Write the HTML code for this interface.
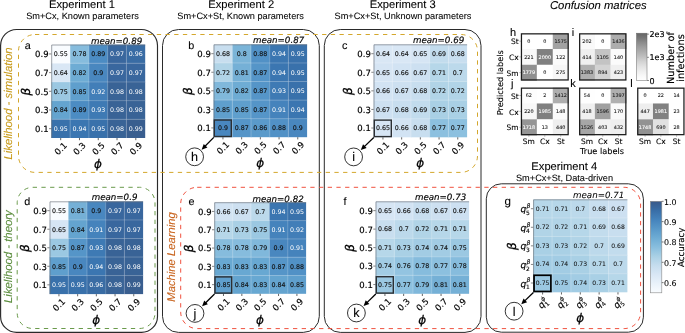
<!DOCTYPE html>
<html lang="en"><head><meta charset="utf-8"><title>Figure</title>
<style>
html,body{margin:0;padding:0;background:#fff}
svg{display:block;will-change:transform}
text{white-space:pre;text-rendering:geometricPrecision}
.d{font-family:"DejaVu Sans","Liberation Sans",sans-serif}
.l{font-family:"Liberation Sans","DejaVu Sans",sans-serif}
</style></head>
<body>
<svg width="685" height="333" viewBox="0 0 685 333">
<rect width="685" height="333" fill="#fff"/>
<rect x="0.6" y="29.5" width="156.9" height="302.9" rx="16" fill="none" stroke="#2a2a2a" stroke-width="1.15"/>
<rect x="162.5" y="29.5" width="156.8" height="302.9" rx="16" fill="none" stroke="#2a2a2a" stroke-width="1"/>
<rect x="324.3" y="29.5" width="156.7" height="302.9" rx="16" fill="none" stroke="#2a2a2a" stroke-width="1"/>
<rect x="486.3" y="183.8" width="157.1" height="148.4" rx="15" fill="none" stroke="#2a2a2a" stroke-width="1"/>
<rect x="18.5" y="34.5" width="459" height="137.9" rx="16.5" fill="none" stroke="#d4a72c" stroke-width="1" stroke-dasharray="4.3 4.4"/>
<rect x="17.2" y="187.3" width="137.8" height="141.2" rx="15.5" fill="none" stroke="#6a9a4b" stroke-width="1" stroke-dasharray="4.3 4.4"/>
<rect x="180.7" y="187.3" width="459.9" height="141.3" rx="16.5" fill="none" stroke="#f0523f" stroke-width="1" stroke-dasharray="4.3 4.4"/>
<text class="l" x="82" y="8.3" font-size="11.2" stroke="#000" stroke-width="0.09" text-anchor="middle">Experiment 1</text>
<text class="l" x="82.5" y="19.3" font-size="9.2" stroke="#000" stroke-width="0.07" text-anchor="middle">Sm+Cx, Known parameters</text>
<text class="l" x="241.2" y="8.3" font-size="11.2" stroke="#000" stroke-width="0.09" text-anchor="middle">Experiment 2</text>
<text class="l" x="240.6" y="19.3" font-size="9.2" stroke="#000" stroke-width="0.07" text-anchor="middle">Sm+Cx+St, Known parameters</text>
<text class="l" x="402.7" y="8.3" font-size="11.2" stroke="#000" stroke-width="0.09" text-anchor="middle">Experiment 3</text>
<text class="l" x="403" y="19.3" font-size="9.2" stroke="#000" stroke-width="0.07" text-anchor="middle">Sm+Cx+St, Unknown parameters</text>
<text class="l" x="564.3" y="169.7" font-size="11.2" stroke="#000" stroke-width="0.09" text-anchor="middle">Experiment 4</text>
<text class="l" x="564.5" y="181" font-size="9.2" stroke="#000" stroke-width="0.07" text-anchor="middle">Sm+Cx+St, Data-driven</text>
<text class="l" x="598.3" y="8.8" font-size="11.3" stroke="#000" stroke-width="0.09" text-anchor="middle" font-style="italic">Confusion matrices</text>
<text class="l" x="11.8" y="103.5" font-size="11.35" stroke="#c79a1a" stroke-width="0.09" text-anchor="middle" fill="#c79a1a" font-style="italic" transform="rotate(-90 11.8 103.5)">Likelihood - simulation</text>
<text class="l" x="11.6" y="256.6" font-size="11.35" stroke="#5a8c3c" stroke-width="0.09" text-anchor="middle" fill="#5a8c3c" font-style="italic" transform="rotate(-90 11.6 256.6)">Likelihood - theory</text>
<text class="l" x="174.9" y="257" font-size="11.25" stroke="#c8641e" stroke-width="0.09" text-anchor="middle" fill="#c8641e" font-style="italic" transform="rotate(-90 174.9 257)">Machine Learning</text>
<rect x="51.3" y="44.6" width="19.08" height="18.98" fill="#f9fcff"/>
<rect x="70.08" y="44.6" width="19.08" height="18.98" fill="#86bcdd"/>
<rect x="88.86" y="44.6" width="19.08" height="18.98" fill="#4c8cc3"/>
<rect x="107.64" y="44.6" width="19.08" height="18.98" fill="#39679e"/>
<rect x="126.42" y="44.6" width="18.78" height="18.98" fill="#396ca4"/>
<rect x="51.3" y="63.28" width="19.08" height="18.98" fill="#d9e7f5"/>
<rect x="70.08" y="63.28" width="19.08" height="18.98" fill="#6eacd4"/>
<rect x="88.86" y="63.28" width="19.08" height="18.98" fill="#4987bf"/>
<rect x="107.64" y="63.28" width="19.08" height="18.98" fill="#39679e"/>
<rect x="126.42" y="63.28" width="18.78" height="18.98" fill="#39679e"/>
<rect x="51.3" y="81.96" width="19.08" height="18.98" fill="#9bc8e2"/>
<rect x="70.08" y="81.96" width="19.08" height="18.98" fill="#5f9fcd"/>
<rect x="88.86" y="81.96" width="19.08" height="18.98" fill="#427eb8"/>
<rect x="107.64" y="81.96" width="19.08" height="18.98" fill="#396396"/>
<rect x="126.42" y="81.96" width="18.78" height="18.98" fill="#396396"/>
<rect x="51.3" y="100.64" width="19.08" height="18.98" fill="#64a4cf"/>
<rect x="70.08" y="100.64" width="19.08" height="18.98" fill="#4c8cc3"/>
<rect x="88.86" y="100.64" width="19.08" height="18.98" fill="#3e7ab4"/>
<rect x="107.64" y="100.64" width="19.08" height="18.98" fill="#396396"/>
<rect x="126.42" y="100.64" width="18.78" height="18.98" fill="#396396"/>
<rect x="51.3" y="119.32" width="19.08" height="18.68" fill="#3971ab"/>
<rect x="70.08" y="119.32" width="19.08" height="18.68" fill="#3b76b1"/>
<rect x="88.86" y="119.32" width="19.08" height="18.68" fill="#3971ab"/>
<rect x="107.64" y="119.32" width="19.08" height="18.68" fill="#396396"/>
<rect x="126.42" y="119.32" width="18.78" height="18.68" fill="#395e8f"/>
<line x1="70.08" y1="44.6" x2="70.08" y2="138" stroke="#fff" stroke-opacity=".45" stroke-width=".5"/>
<line x1="51.3" y1="63.28" x2="145.2" y2="63.28" stroke="#fff" stroke-opacity=".45" stroke-width=".5"/>
<line x1="88.86" y1="44.6" x2="88.86" y2="138" stroke="#fff" stroke-opacity=".45" stroke-width=".5"/>
<line x1="51.3" y1="81.96" x2="145.2" y2="81.96" stroke="#fff" stroke-opacity=".45" stroke-width=".5"/>
<line x1="107.64" y1="44.6" x2="107.64" y2="138" stroke="#fff" stroke-opacity=".45" stroke-width=".5"/>
<line x1="51.3" y1="100.64" x2="145.2" y2="100.64" stroke="#fff" stroke-opacity=".45" stroke-width=".5"/>
<line x1="126.42" y1="44.6" x2="126.42" y2="138" stroke="#fff" stroke-opacity=".45" stroke-width=".5"/>
<line x1="51.3" y1="119.32" x2="145.2" y2="119.32" stroke="#fff" stroke-opacity=".45" stroke-width=".5"/>
<path d="M51.7 138V45H145.2" fill="none" stroke="#6a7078" stroke-opacity=".8" stroke-width=".8"/>
<text class="d" x="60.69" y="56.24" font-size="6.3" stroke="#111" stroke-width="0.14" text-anchor="middle" fill="#111">0.55</text>
<text class="d" x="79.47" y="56.24" font-size="6.3" stroke="#111" stroke-width="0.14" text-anchor="middle" fill="#111">0.78</text>
<text class="d" x="98.25" y="56.24" font-size="6.3" stroke="#111" stroke-width="0.14" text-anchor="middle" fill="#111">0.89</text>
<text class="d" x="117.03" y="56.24" font-size="6.3" text-anchor="middle" fill="#fff">0.97</text>
<text class="d" x="135.81" y="56.24" font-size="6.3" text-anchor="middle" fill="#fff">0.96</text>
<text class="d" x="60.69" y="74.92" font-size="6.3" stroke="#111" stroke-width="0.14" text-anchor="middle" fill="#111">0.64</text>
<text class="d" x="79.47" y="74.92" font-size="6.3" stroke="#111" stroke-width="0.14" text-anchor="middle" fill="#111">0.82</text>
<text class="d" x="98.25" y="74.92" font-size="6.3" stroke="#111" stroke-width="0.14" text-anchor="middle" fill="#111">0.9</text>
<text class="d" x="117.03" y="74.92" font-size="6.3" text-anchor="middle" fill="#fff">0.97</text>
<text class="d" x="135.81" y="74.92" font-size="6.3" text-anchor="middle" fill="#fff">0.97</text>
<text class="d" x="60.69" y="93.6" font-size="6.3" stroke="#111" stroke-width="0.14" text-anchor="middle" fill="#111">0.75</text>
<text class="d" x="79.47" y="93.6" font-size="6.3" stroke="#111" stroke-width="0.14" text-anchor="middle" fill="#111">0.85</text>
<text class="d" x="98.25" y="93.6" font-size="6.3" text-anchor="middle" fill="#fff">0.92</text>
<text class="d" x="117.03" y="93.6" font-size="6.3" text-anchor="middle" fill="#fff">0.98</text>
<text class="d" x="135.81" y="93.6" font-size="6.3" text-anchor="middle" fill="#fff">0.98</text>
<text class="d" x="60.69" y="112.28" font-size="6.3" stroke="#111" stroke-width="0.14" text-anchor="middle" fill="#111">0.84</text>
<text class="d" x="79.47" y="112.28" font-size="6.3" stroke="#111" stroke-width="0.14" text-anchor="middle" fill="#111">0.89</text>
<text class="d" x="98.25" y="112.28" font-size="6.3" text-anchor="middle" fill="#fff">0.93</text>
<text class="d" x="117.03" y="112.28" font-size="6.3" text-anchor="middle" fill="#fff">0.98</text>
<text class="d" x="135.81" y="112.28" font-size="6.3" text-anchor="middle" fill="#fff">0.98</text>
<text class="d" x="60.69" y="130.96" font-size="6.3" text-anchor="middle" fill="#fff">0.95</text>
<text class="d" x="79.47" y="130.96" font-size="6.3" text-anchor="middle" fill="#fff">0.94</text>
<text class="d" x="98.25" y="130.96" font-size="6.3" text-anchor="middle" fill="#fff">0.95</text>
<text class="d" x="117.03" y="130.96" font-size="6.3" text-anchor="middle" fill="#fff">0.98</text>
<text class="d" x="135.81" y="130.96" font-size="6.3" text-anchor="middle" fill="#fff">0.99</text>
<line x1="49" y1="53.94" x2="51.3" y2="53.94" stroke="#333" stroke-width=".6"/>
<text class="d" x="48.6" y="57.34" font-size="8.5" stroke="#000" stroke-width="0.17" text-anchor="end">0.9</text>
<line x1="49" y1="72.62" x2="51.3" y2="72.62" stroke="#333" stroke-width=".6"/>
<text class="d" x="48.6" y="76.02" font-size="8.5" stroke="#000" stroke-width="0.17" text-anchor="end">0.7</text>
<line x1="49" y1="91.3" x2="51.3" y2="91.3" stroke="#333" stroke-width=".6"/>
<text class="d" x="48.6" y="94.7" font-size="8.5" stroke="#000" stroke-width="0.17" text-anchor="end">0.5</text>
<line x1="49" y1="109.98" x2="51.3" y2="109.98" stroke="#333" stroke-width=".6"/>
<text class="d" x="48.6" y="113.38" font-size="8.5" stroke="#000" stroke-width="0.17" text-anchor="end">0.3</text>
<line x1="49" y1="128.66" x2="51.3" y2="128.66" stroke="#333" stroke-width=".6"/>
<text class="d" x="48.6" y="132.06" font-size="8.5" stroke="#000" stroke-width="0.17" text-anchor="end">0.1</text>
<line x1="60.69" y1="138" x2="60.69" y2="140.2" stroke="#222" stroke-width=".7"/>
<text class="d" x="60.69" y="151.7" font-size="8.5" stroke="#000" stroke-width="0.17" text-anchor="middle" transform="rotate(-45 60.69 148.6)">0.1</text>
<line x1="79.47" y1="138" x2="79.47" y2="140.2" stroke="#222" stroke-width=".7"/>
<text class="d" x="79.47" y="151.7" font-size="8.5" stroke="#000" stroke-width="0.17" text-anchor="middle" transform="rotate(-45 79.47 148.6)">0.3</text>
<line x1="98.25" y1="138" x2="98.25" y2="140.2" stroke="#222" stroke-width=".7"/>
<text class="d" x="98.25" y="151.7" font-size="8.5" stroke="#000" stroke-width="0.17" text-anchor="middle" transform="rotate(-45 98.25 148.6)">0.5</text>
<line x1="117.03" y1="138" x2="117.03" y2="140.2" stroke="#222" stroke-width=".7"/>
<text class="d" x="117.03" y="151.7" font-size="8.5" stroke="#000" stroke-width="0.17" text-anchor="middle" transform="rotate(-45 117.03 148.6)">0.7</text>
<line x1="135.81" y1="138" x2="135.81" y2="140.2" stroke="#222" stroke-width=".7"/>
<text class="d" x="135.81" y="151.7" font-size="8.5" stroke="#000" stroke-width="0.17" text-anchor="middle" transform="rotate(-45 135.81 148.6)">0.9</text>
<text class="d" x="26.4" y="95.8" font-size="12" stroke="#000" stroke-width="0.24" text-anchor="middle" font-style="italic" transform="rotate(-90 26.4 91.7)">β</text>
<text class="d" x="98.05" y="168" font-size="12" stroke="#000" stroke-width="0.24" text-anchor="middle" font-style="italic">ϕ</text>
<text class="d" x="116.56" y="43.9" font-size="8.7" stroke="#000" stroke-width="0.17" text-anchor="middle" font-style="italic">mean=0.89</text>
<text class="l" x="24.8" y="49" font-size="10.8" stroke="#000" stroke-width="0.09">a</text>
<rect x="213.6" y="44.4" width="19" height="18.86" fill="#c8deef"/>
<rect x="232.3" y="44.4" width="19" height="18.86" fill="#7ab4d8"/>
<rect x="251" y="44.4" width="19" height="18.86" fill="#5191c6"/>
<rect x="269.7" y="44.4" width="19" height="18.86" fill="#3b76b1"/>
<rect x="288.4" y="44.4" width="18.7" height="18.86" fill="#3971ab"/>
<rect x="213.6" y="62.96" width="19" height="18.86" fill="#b1d4e7"/>
<rect x="232.3" y="62.96" width="19" height="18.86" fill="#75b0d6"/>
<rect x="251" y="62.96" width="19" height="18.86" fill="#5595c8"/>
<rect x="269.7" y="62.96" width="19" height="18.86" fill="#3b76b1"/>
<rect x="288.4" y="62.96" width="18.7" height="18.86" fill="#3971ab"/>
<rect x="213.6" y="81.52" width="19" height="18.86" fill="#80b8db"/>
<rect x="232.3" y="81.52" width="19" height="18.86" fill="#6eacd4"/>
<rect x="251" y="81.52" width="19" height="18.86" fill="#5595c8"/>
<rect x="269.7" y="81.52" width="19" height="18.86" fill="#3e7ab4"/>
<rect x="288.4" y="81.52" width="18.7" height="18.86" fill="#3971ab"/>
<rect x="213.6" y="100.08" width="19" height="18.86" fill="#5f9fcd"/>
<rect x="232.3" y="100.08" width="19" height="18.86" fill="#5f9fcd"/>
<rect x="251" y="100.08" width="19" height="18.86" fill="#5595c8"/>
<rect x="269.7" y="100.08" width="19" height="18.86" fill="#4583bc"/>
<rect x="288.4" y="100.08" width="18.7" height="18.86" fill="#3b76b1"/>
<rect x="213.6" y="118.64" width="19" height="18.56" fill="#4987bf"/>
<rect x="232.3" y="118.64" width="19" height="18.56" fill="#5595c8"/>
<rect x="251" y="118.64" width="19" height="18.56" fill="#5a9aca"/>
<rect x="269.7" y="118.64" width="19" height="18.56" fill="#5191c6"/>
<rect x="288.4" y="118.64" width="18.7" height="18.56" fill="#4987bf"/>
<line x1="232.3" y1="44.4" x2="232.3" y2="137.2" stroke="#fff" stroke-opacity=".45" stroke-width=".5"/>
<line x1="213.6" y1="62.96" x2="307.1" y2="62.96" stroke="#fff" stroke-opacity=".45" stroke-width=".5"/>
<line x1="251" y1="44.4" x2="251" y2="137.2" stroke="#fff" stroke-opacity=".45" stroke-width=".5"/>
<line x1="213.6" y1="81.52" x2="307.1" y2="81.52" stroke="#fff" stroke-opacity=".45" stroke-width=".5"/>
<line x1="269.7" y1="44.4" x2="269.7" y2="137.2" stroke="#fff" stroke-opacity=".45" stroke-width=".5"/>
<line x1="213.6" y1="100.08" x2="307.1" y2="100.08" stroke="#fff" stroke-opacity=".45" stroke-width=".5"/>
<line x1="288.4" y1="44.4" x2="288.4" y2="137.2" stroke="#fff" stroke-opacity=".45" stroke-width=".5"/>
<line x1="213.6" y1="118.64" x2="307.1" y2="118.64" stroke="#fff" stroke-opacity=".45" stroke-width=".5"/>
<path d="M214 137.2V44.8H307.1" fill="none" stroke="#6a7078" stroke-opacity=".8" stroke-width=".8"/>
<text class="d" x="222.95" y="55.98" font-size="6.3" stroke="#111" stroke-width="0.14" text-anchor="middle" fill="#111">0.68</text>
<text class="d" x="241.65" y="55.98" font-size="6.3" stroke="#111" stroke-width="0.14" text-anchor="middle" fill="#111">0.8</text>
<text class="d" x="260.35" y="55.98" font-size="6.3" stroke="#111" stroke-width="0.14" text-anchor="middle" fill="#111">0.88</text>
<text class="d" x="279.05" y="55.98" font-size="6.3" text-anchor="middle" fill="#fff">0.94</text>
<text class="d" x="297.75" y="55.98" font-size="6.3" text-anchor="middle" fill="#fff">0.95</text>
<text class="d" x="222.95" y="74.54" font-size="6.3" stroke="#111" stroke-width="0.14" text-anchor="middle" fill="#111">0.72</text>
<text class="d" x="241.65" y="74.54" font-size="6.3" stroke="#111" stroke-width="0.14" text-anchor="middle" fill="#111">0.81</text>
<text class="d" x="260.35" y="74.54" font-size="6.3" stroke="#111" stroke-width="0.14" text-anchor="middle" fill="#111">0.87</text>
<text class="d" x="279.05" y="74.54" font-size="6.3" text-anchor="middle" fill="#fff">0.94</text>
<text class="d" x="297.75" y="74.54" font-size="6.3" text-anchor="middle" fill="#fff">0.95</text>
<text class="d" x="222.95" y="93.1" font-size="6.3" stroke="#111" stroke-width="0.14" text-anchor="middle" fill="#111">0.79</text>
<text class="d" x="241.65" y="93.1" font-size="6.3" stroke="#111" stroke-width="0.14" text-anchor="middle" fill="#111">0.82</text>
<text class="d" x="260.35" y="93.1" font-size="6.3" stroke="#111" stroke-width="0.14" text-anchor="middle" fill="#111">0.87</text>
<text class="d" x="279.05" y="93.1" font-size="6.3" text-anchor="middle" fill="#fff">0.93</text>
<text class="d" x="297.75" y="93.1" font-size="6.3" text-anchor="middle" fill="#fff">0.95</text>
<text class="d" x="222.95" y="111.66" font-size="6.3" stroke="#111" stroke-width="0.14" text-anchor="middle" fill="#111">0.85</text>
<text class="d" x="241.65" y="111.66" font-size="6.3" stroke="#111" stroke-width="0.14" text-anchor="middle" fill="#111">0.85</text>
<text class="d" x="260.35" y="111.66" font-size="6.3" stroke="#111" stroke-width="0.14" text-anchor="middle" fill="#111">0.87</text>
<text class="d" x="279.05" y="111.66" font-size="6.3" text-anchor="middle" fill="#fff">0.91</text>
<text class="d" x="297.75" y="111.66" font-size="6.3" text-anchor="middle" fill="#fff">0.94</text>
<text class="d" x="222.95" y="130.22" font-size="6.3" stroke="#111" stroke-width="0.14" text-anchor="middle" fill="#111">0.9</text>
<text class="d" x="241.65" y="130.22" font-size="6.3" stroke="#111" stroke-width="0.14" text-anchor="middle" fill="#111">0.87</text>
<text class="d" x="260.35" y="130.22" font-size="6.3" stroke="#111" stroke-width="0.14" text-anchor="middle" fill="#111">0.86</text>
<text class="d" x="279.05" y="130.22" font-size="6.3" stroke="#111" stroke-width="0.14" text-anchor="middle" fill="#111">0.88</text>
<text class="d" x="297.75" y="130.22" font-size="6.3" stroke="#111" stroke-width="0.14" text-anchor="middle" fill="#111">0.9</text>
<line x1="211.3" y1="53.68" x2="213.6" y2="53.68" stroke="#333" stroke-width=".6"/>
<text class="d" x="210.9" y="57.08" font-size="8.5" stroke="#000" stroke-width="0.17" text-anchor="end">0.9</text>
<line x1="211.3" y1="72.24" x2="213.6" y2="72.24" stroke="#333" stroke-width=".6"/>
<text class="d" x="210.9" y="75.64" font-size="8.5" stroke="#000" stroke-width="0.17" text-anchor="end">0.7</text>
<line x1="211.3" y1="90.8" x2="213.6" y2="90.8" stroke="#333" stroke-width=".6"/>
<text class="d" x="210.9" y="94.2" font-size="8.5" stroke="#000" stroke-width="0.17" text-anchor="end">0.5</text>
<line x1="211.3" y1="109.36" x2="213.6" y2="109.36" stroke="#333" stroke-width=".6"/>
<text class="d" x="210.9" y="112.76" font-size="8.5" stroke="#000" stroke-width="0.17" text-anchor="end">0.3</text>
<line x1="211.3" y1="127.92" x2="213.6" y2="127.92" stroke="#333" stroke-width=".6"/>
<text class="d" x="210.9" y="131.32" font-size="8.5" stroke="#000" stroke-width="0.17" text-anchor="end">0.1</text>
<line x1="222.95" y1="137.2" x2="222.95" y2="139.4" stroke="#222" stroke-width=".7"/>
<text class="d" x="222.95" y="150.9" font-size="8.5" stroke="#000" stroke-width="0.17" text-anchor="middle" transform="rotate(-45 222.95 147.8)">0.1</text>
<line x1="241.65" y1="137.2" x2="241.65" y2="139.4" stroke="#222" stroke-width=".7"/>
<text class="d" x="241.65" y="150.9" font-size="8.5" stroke="#000" stroke-width="0.17" text-anchor="middle" transform="rotate(-45 241.65 147.8)">0.3</text>
<line x1="260.35" y1="137.2" x2="260.35" y2="139.4" stroke="#222" stroke-width=".7"/>
<text class="d" x="260.35" y="150.9" font-size="8.5" stroke="#000" stroke-width="0.17" text-anchor="middle" transform="rotate(-45 260.35 147.8)">0.5</text>
<line x1="279.05" y1="137.2" x2="279.05" y2="139.4" stroke="#222" stroke-width=".7"/>
<text class="d" x="279.05" y="150.9" font-size="8.5" stroke="#000" stroke-width="0.17" text-anchor="middle" transform="rotate(-45 279.05 147.8)">0.7</text>
<line x1="297.75" y1="137.2" x2="297.75" y2="139.4" stroke="#222" stroke-width=".7"/>
<text class="d" x="297.75" y="150.9" font-size="8.5" stroke="#000" stroke-width="0.17" text-anchor="middle" transform="rotate(-45 297.75 147.8)">0.9</text>
<text class="d" x="188" y="95.3" font-size="12" stroke="#000" stroke-width="0.24" text-anchor="middle" font-style="italic" transform="rotate(-90 188 91.2)">β</text>
<text class="d" x="260.15" y="167.2" font-size="12" stroke="#000" stroke-width="0.24" text-anchor="middle" font-style="italic">ϕ</text>
<text class="d" x="278.58" y="43.3" font-size="8.7" stroke="#000" stroke-width="0.17" text-anchor="middle" font-style="italic">mean=0.87</text>
<text class="l" x="188.2" y="49.3" font-size="10.8" stroke="#000" stroke-width="0.09">b</text>
<rect x="214.3" y="120.04" width="17" height="16.46" fill="none" stroke="#2b2f33" stroke-width="1.4"/>
<line x1="213.8" y1="137.4" x2="203.74" y2="147.56" stroke="#000" stroke-width="1.3"/>
<polygon points="201.63,149.69 203.73,143.88 207.42,147.54" fill="#000"/>
<circle cx="194.6" cy="156.8" r="8.9" fill="#fff" stroke="#111" stroke-width=".85"/>
<text class="l" x="194.6" y="161.1" font-size="12.6" stroke="#000" stroke-width="0.1" text-anchor="middle">h</text>
<rect x="373.6" y="44.4" width="19" height="18.88" fill="#d9e7f5"/>
<rect x="392.3" y="44.4" width="19" height="18.88" fill="#d9e7f5"/>
<rect x="411" y="44.4" width="19" height="18.88" fill="#d6e5f4"/>
<rect x="429.7" y="44.4" width="19" height="18.88" fill="#c2dced"/>
<rect x="448.4" y="44.4" width="18.7" height="18.88" fill="#c8deef"/>
<rect x="373.6" y="62.98" width="19" height="18.88" fill="#d6e5f4"/>
<rect x="392.3" y="62.98" width="19" height="18.88" fill="#d2e3f3"/>
<rect x="411" y="62.98" width="19" height="18.88" fill="#cde0f1"/>
<rect x="429.7" y="62.98" width="19" height="18.88" fill="#b6d7e9"/>
<rect x="448.4" y="62.98" width="18.7" height="18.88" fill="#bcd9eb"/>
<rect x="373.6" y="81.56" width="19" height="18.88" fill="#d2e3f3"/>
<rect x="392.3" y="81.56" width="19" height="18.88" fill="#cde0f1"/>
<rect x="411" y="81.56" width="19" height="18.88" fill="#c8deef"/>
<rect x="429.7" y="81.56" width="19" height="18.88" fill="#b1d4e7"/>
<rect x="448.4" y="81.56" width="18.7" height="18.88" fill="#b1d4e7"/>
<rect x="373.6" y="100.14" width="19" height="18.88" fill="#cde0f1"/>
<rect x="392.3" y="100.14" width="19" height="18.88" fill="#c8deef"/>
<rect x="411" y="100.14" width="19" height="18.88" fill="#c2dced"/>
<rect x="429.7" y="100.14" width="19" height="18.88" fill="#a9d0e5"/>
<rect x="448.4" y="100.14" width="18.7" height="18.88" fill="#a9d0e5"/>
<rect x="373.6" y="118.72" width="19" height="18.58" fill="#d6e5f4"/>
<rect x="392.3" y="118.72" width="19" height="18.58" fill="#d2e3f3"/>
<rect x="411" y="118.72" width="19" height="18.58" fill="#c8deef"/>
<rect x="429.7" y="118.72" width="19" height="18.58" fill="#8cc0df"/>
<rect x="448.4" y="118.72" width="18.7" height="18.58" fill="#8cc0df"/>
<line x1="392.3" y1="44.4" x2="392.3" y2="137.3" stroke="#fff" stroke-opacity=".45" stroke-width=".5"/>
<line x1="373.6" y1="62.98" x2="467.1" y2="62.98" stroke="#fff" stroke-opacity=".45" stroke-width=".5"/>
<line x1="411" y1="44.4" x2="411" y2="137.3" stroke="#fff" stroke-opacity=".45" stroke-width=".5"/>
<line x1="373.6" y1="81.56" x2="467.1" y2="81.56" stroke="#fff" stroke-opacity=".45" stroke-width=".5"/>
<line x1="429.7" y1="44.4" x2="429.7" y2="137.3" stroke="#fff" stroke-opacity=".45" stroke-width=".5"/>
<line x1="373.6" y1="100.14" x2="467.1" y2="100.14" stroke="#fff" stroke-opacity=".45" stroke-width=".5"/>
<line x1="448.4" y1="44.4" x2="448.4" y2="137.3" stroke="#fff" stroke-opacity=".45" stroke-width=".5"/>
<line x1="373.6" y1="118.72" x2="467.1" y2="118.72" stroke="#fff" stroke-opacity=".45" stroke-width=".5"/>
<path d="M374 137.3V44.8H467.1" fill="none" stroke="#6a7078" stroke-opacity=".8" stroke-width=".8"/>
<text class="d" x="382.95" y="55.99" font-size="6.3" stroke="#111" stroke-width="0.14" text-anchor="middle" fill="#111">0.64</text>
<text class="d" x="401.65" y="55.99" font-size="6.3" stroke="#111" stroke-width="0.14" text-anchor="middle" fill="#111">0.64</text>
<text class="d" x="420.35" y="55.99" font-size="6.3" stroke="#111" stroke-width="0.14" text-anchor="middle" fill="#111">0.65</text>
<text class="d" x="439.05" y="55.99" font-size="6.3" stroke="#111" stroke-width="0.14" text-anchor="middle" fill="#111">0.69</text>
<text class="d" x="457.75" y="55.99" font-size="6.3" stroke="#111" stroke-width="0.14" text-anchor="middle" fill="#111">0.68</text>
<text class="d" x="382.95" y="74.57" font-size="6.3" stroke="#111" stroke-width="0.14" text-anchor="middle" fill="#111">0.65</text>
<text class="d" x="401.65" y="74.57" font-size="6.3" stroke="#111" stroke-width="0.14" text-anchor="middle" fill="#111">0.66</text>
<text class="d" x="420.35" y="74.57" font-size="6.3" stroke="#111" stroke-width="0.14" text-anchor="middle" fill="#111">0.67</text>
<text class="d" x="439.05" y="74.57" font-size="6.3" stroke="#111" stroke-width="0.14" text-anchor="middle" fill="#111">0.71</text>
<text class="d" x="457.75" y="74.57" font-size="6.3" stroke="#111" stroke-width="0.14" text-anchor="middle" fill="#111">0.7</text>
<text class="d" x="382.95" y="93.15" font-size="6.3" stroke="#111" stroke-width="0.14" text-anchor="middle" fill="#111">0.66</text>
<text class="d" x="401.65" y="93.15" font-size="6.3" stroke="#111" stroke-width="0.14" text-anchor="middle" fill="#111">0.67</text>
<text class="d" x="420.35" y="93.15" font-size="6.3" stroke="#111" stroke-width="0.14" text-anchor="middle" fill="#111">0.68</text>
<text class="d" x="439.05" y="93.15" font-size="6.3" stroke="#111" stroke-width="0.14" text-anchor="middle" fill="#111">0.72</text>
<text class="d" x="457.75" y="93.15" font-size="6.3" stroke="#111" stroke-width="0.14" text-anchor="middle" fill="#111">0.72</text>
<text class="d" x="382.95" y="111.73" font-size="6.3" stroke="#111" stroke-width="0.14" text-anchor="middle" fill="#111">0.67</text>
<text class="d" x="401.65" y="111.73" font-size="6.3" stroke="#111" stroke-width="0.14" text-anchor="middle" fill="#111">0.68</text>
<text class="d" x="420.35" y="111.73" font-size="6.3" stroke="#111" stroke-width="0.14" text-anchor="middle" fill="#111">0.69</text>
<text class="d" x="439.05" y="111.73" font-size="6.3" stroke="#111" stroke-width="0.14" text-anchor="middle" fill="#111">0.73</text>
<text class="d" x="457.75" y="111.73" font-size="6.3" stroke="#111" stroke-width="0.14" text-anchor="middle" fill="#111">0.73</text>
<text class="d" x="382.95" y="130.31" font-size="6.3" stroke="#111" stroke-width="0.14" text-anchor="middle" fill="#111">0.65</text>
<text class="d" x="401.65" y="130.31" font-size="6.3" stroke="#111" stroke-width="0.14" text-anchor="middle" fill="#111">0.66</text>
<text class="d" x="420.35" y="130.31" font-size="6.3" stroke="#111" stroke-width="0.14" text-anchor="middle" fill="#111">0.68</text>
<text class="d" x="439.05" y="130.31" font-size="6.3" stroke="#111" stroke-width="0.14" text-anchor="middle" fill="#111">0.77</text>
<text class="d" x="457.75" y="130.31" font-size="6.3" stroke="#111" stroke-width="0.14" text-anchor="middle" fill="#111">0.77</text>
<line x1="371.3" y1="53.69" x2="373.6" y2="53.69" stroke="#333" stroke-width=".6"/>
<text class="d" x="370.9" y="57.09" font-size="8.5" stroke="#000" stroke-width="0.17" text-anchor="end">0.9</text>
<line x1="371.3" y1="72.27" x2="373.6" y2="72.27" stroke="#333" stroke-width=".6"/>
<text class="d" x="370.9" y="75.67" font-size="8.5" stroke="#000" stroke-width="0.17" text-anchor="end">0.7</text>
<line x1="371.3" y1="90.85" x2="373.6" y2="90.85" stroke="#333" stroke-width=".6"/>
<text class="d" x="370.9" y="94.25" font-size="8.5" stroke="#000" stroke-width="0.17" text-anchor="end">0.5</text>
<line x1="371.3" y1="109.43" x2="373.6" y2="109.43" stroke="#333" stroke-width=".6"/>
<text class="d" x="370.9" y="112.83" font-size="8.5" stroke="#000" stroke-width="0.17" text-anchor="end">0.3</text>
<line x1="371.3" y1="128.01" x2="373.6" y2="128.01" stroke="#333" stroke-width=".6"/>
<text class="d" x="370.9" y="131.41" font-size="8.5" stroke="#000" stroke-width="0.17" text-anchor="end">0.1</text>
<line x1="382.95" y1="137.3" x2="382.95" y2="139.5" stroke="#222" stroke-width=".7"/>
<text class="d" x="382.95" y="151" font-size="8.5" stroke="#000" stroke-width="0.17" text-anchor="middle" transform="rotate(-45 382.95 147.9)">0.1</text>
<line x1="401.65" y1="137.3" x2="401.65" y2="139.5" stroke="#222" stroke-width=".7"/>
<text class="d" x="401.65" y="151" font-size="8.5" stroke="#000" stroke-width="0.17" text-anchor="middle" transform="rotate(-45 401.65 147.9)">0.3</text>
<line x1="420.35" y1="137.3" x2="420.35" y2="139.5" stroke="#222" stroke-width=".7"/>
<text class="d" x="420.35" y="151" font-size="8.5" stroke="#000" stroke-width="0.17" text-anchor="middle" transform="rotate(-45 420.35 147.9)">0.5</text>
<line x1="439.05" y1="137.3" x2="439.05" y2="139.5" stroke="#222" stroke-width=".7"/>
<text class="d" x="439.05" y="151" font-size="8.5" stroke="#000" stroke-width="0.17" text-anchor="middle" transform="rotate(-45 439.05 147.9)">0.7</text>
<line x1="457.75" y1="137.3" x2="457.75" y2="139.5" stroke="#222" stroke-width=".7"/>
<text class="d" x="457.75" y="151" font-size="8.5" stroke="#000" stroke-width="0.17" text-anchor="middle" transform="rotate(-45 457.75 147.9)">0.9</text>
<text class="d" x="348" y="95.35" font-size="12" stroke="#000" stroke-width="0.24" text-anchor="middle" font-style="italic" transform="rotate(-90 348 91.25)">β</text>
<text class="d" x="420.15" y="167.3" font-size="12" stroke="#000" stroke-width="0.24" text-anchor="middle" font-style="italic">ϕ</text>
<text class="d" x="438.58" y="43.1" font-size="8.7" stroke="#000" stroke-width="0.17" text-anchor="middle" font-style="italic">mean=0.69</text>
<text class="l" x="342" y="49.4" font-size="10.8" stroke="#000" stroke-width="0.09">c</text>
<rect x="374.3" y="120.12" width="17" height="16.48" fill="none" stroke="#2b2f33" stroke-width="1.4"/>
<line x1="373.8" y1="137.5" x2="362.98" y2="147.9" stroke="#000" stroke-width="1.3"/>
<polygon points="360.81,149.97 363.05,144.22 366.65,147.97" fill="#000"/>
<circle cx="353.6" cy="156.9" r="8.9" fill="#fff" stroke="#111" stroke-width=".85"/>
<text class="l" x="353.6" y="161.2" font-size="12.6" stroke="#000" stroke-width="0.1" text-anchor="middle">i</text>
<rect x="49.6" y="201.4" width="19" height="18.84" fill="#f9fcff"/>
<rect x="68.3" y="201.4" width="19" height="18.84" fill="#75b0d6"/>
<rect x="87" y="201.4" width="19" height="18.84" fill="#4987bf"/>
<rect x="105.7" y="201.4" width="19" height="18.84" fill="#39679e"/>
<rect x="124.4" y="201.4" width="18.7" height="18.84" fill="#39679e"/>
<rect x="49.6" y="219.94" width="19" height="18.84" fill="#d6e5f4"/>
<rect x="68.3" y="219.94" width="19" height="18.84" fill="#64a4cf"/>
<rect x="87" y="219.94" width="19" height="18.84" fill="#4583bc"/>
<rect x="105.7" y="219.94" width="19" height="18.84" fill="#39679e"/>
<rect x="124.4" y="219.94" width="18.7" height="18.84" fill="#39679e"/>
<rect x="49.6" y="238.48" width="19" height="18.84" fill="#9bc8e2"/>
<rect x="68.3" y="238.48" width="19" height="18.84" fill="#5595c8"/>
<rect x="87" y="238.48" width="19" height="18.84" fill="#3e7ab4"/>
<rect x="105.7" y="238.48" width="19" height="18.84" fill="#396396"/>
<rect x="124.4" y="238.48" width="18.7" height="18.84" fill="#396396"/>
<rect x="49.6" y="257.02" width="19" height="18.84" fill="#5f9fcd"/>
<rect x="68.3" y="257.02" width="19" height="18.84" fill="#4987bf"/>
<rect x="87" y="257.02" width="19" height="18.84" fill="#3b76b1"/>
<rect x="105.7" y="257.02" width="19" height="18.84" fill="#396396"/>
<rect x="124.4" y="257.02" width="18.7" height="18.84" fill="#396396"/>
<rect x="49.6" y="275.56" width="19" height="18.54" fill="#3971ab"/>
<rect x="68.3" y="275.56" width="19" height="18.54" fill="#3971ab"/>
<rect x="87" y="275.56" width="19" height="18.54" fill="#396ca4"/>
<rect x="105.7" y="275.56" width="19" height="18.54" fill="#396396"/>
<rect x="124.4" y="275.56" width="18.7" height="18.54" fill="#395e8f"/>
<line x1="68.3" y1="201.4" x2="68.3" y2="294.1" stroke="#fff" stroke-opacity=".45" stroke-width=".5"/>
<line x1="49.6" y1="219.94" x2="143.1" y2="219.94" stroke="#fff" stroke-opacity=".45" stroke-width=".5"/>
<line x1="87" y1="201.4" x2="87" y2="294.1" stroke="#fff" stroke-opacity=".45" stroke-width=".5"/>
<line x1="49.6" y1="238.48" x2="143.1" y2="238.48" stroke="#fff" stroke-opacity=".45" stroke-width=".5"/>
<line x1="105.7" y1="201.4" x2="105.7" y2="294.1" stroke="#fff" stroke-opacity=".45" stroke-width=".5"/>
<line x1="49.6" y1="257.02" x2="143.1" y2="257.02" stroke="#fff" stroke-opacity=".45" stroke-width=".5"/>
<line x1="124.4" y1="201.4" x2="124.4" y2="294.1" stroke="#fff" stroke-opacity=".45" stroke-width=".5"/>
<line x1="49.6" y1="275.56" x2="143.1" y2="275.56" stroke="#fff" stroke-opacity=".45" stroke-width=".5"/>
<path d="M50 294.1V201.8H143.1" fill="none" stroke="#6a7078" stroke-opacity=".8" stroke-width=".8"/>
<text class="d" x="58.95" y="212.97" font-size="6.3" stroke="#111" stroke-width="0.14" text-anchor="middle" fill="#111">0.55</text>
<text class="d" x="77.65" y="212.97" font-size="6.3" stroke="#111" stroke-width="0.14" text-anchor="middle" fill="#111">0.81</text>
<text class="d" x="96.35" y="212.97" font-size="6.3" stroke="#111" stroke-width="0.14" text-anchor="middle" fill="#111">0.9</text>
<text class="d" x="115.05" y="212.97" font-size="6.3" text-anchor="middle" fill="#fff">0.97</text>
<text class="d" x="133.75" y="212.97" font-size="6.3" text-anchor="middle" fill="#fff">0.97</text>
<text class="d" x="58.95" y="231.51" font-size="6.3" stroke="#111" stroke-width="0.14" text-anchor="middle" fill="#111">0.65</text>
<text class="d" x="77.65" y="231.51" font-size="6.3" stroke="#111" stroke-width="0.14" text-anchor="middle" fill="#111">0.84</text>
<text class="d" x="96.35" y="231.51" font-size="6.3" text-anchor="middle" fill="#fff">0.91</text>
<text class="d" x="115.05" y="231.51" font-size="6.3" text-anchor="middle" fill="#fff">0.97</text>
<text class="d" x="133.75" y="231.51" font-size="6.3" text-anchor="middle" fill="#fff">0.97</text>
<text class="d" x="58.95" y="250.05" font-size="6.3" stroke="#111" stroke-width="0.14" text-anchor="middle" fill="#111">0.75</text>
<text class="d" x="77.65" y="250.05" font-size="6.3" stroke="#111" stroke-width="0.14" text-anchor="middle" fill="#111">0.87</text>
<text class="d" x="96.35" y="250.05" font-size="6.3" text-anchor="middle" fill="#fff">0.93</text>
<text class="d" x="115.05" y="250.05" font-size="6.3" text-anchor="middle" fill="#fff">0.98</text>
<text class="d" x="133.75" y="250.05" font-size="6.3" text-anchor="middle" fill="#fff">0.98</text>
<text class="d" x="58.95" y="268.59" font-size="6.3" stroke="#111" stroke-width="0.14" text-anchor="middle" fill="#111">0.85</text>
<text class="d" x="77.65" y="268.59" font-size="6.3" stroke="#111" stroke-width="0.14" text-anchor="middle" fill="#111">0.9</text>
<text class="d" x="96.35" y="268.59" font-size="6.3" text-anchor="middle" fill="#fff">0.94</text>
<text class="d" x="115.05" y="268.59" font-size="6.3" text-anchor="middle" fill="#fff">0.98</text>
<text class="d" x="133.75" y="268.59" font-size="6.3" text-anchor="middle" fill="#fff">0.98</text>
<text class="d" x="58.95" y="287.13" font-size="6.3" text-anchor="middle" fill="#fff">0.95</text>
<text class="d" x="77.65" y="287.13" font-size="6.3" text-anchor="middle" fill="#fff">0.95</text>
<text class="d" x="96.35" y="287.13" font-size="6.3" text-anchor="middle" fill="#fff">0.96</text>
<text class="d" x="115.05" y="287.13" font-size="6.3" text-anchor="middle" fill="#fff">0.98</text>
<text class="d" x="133.75" y="287.13" font-size="6.3" text-anchor="middle" fill="#fff">0.99</text>
<line x1="47.3" y1="210.67" x2="49.6" y2="210.67" stroke="#333" stroke-width=".6"/>
<text class="d" x="46.9" y="214.07" font-size="8.5" stroke="#000" stroke-width="0.17" text-anchor="end">0.9</text>
<line x1="47.3" y1="229.21" x2="49.6" y2="229.21" stroke="#333" stroke-width=".6"/>
<text class="d" x="46.9" y="232.61" font-size="8.5" stroke="#000" stroke-width="0.17" text-anchor="end">0.7</text>
<line x1="47.3" y1="247.75" x2="49.6" y2="247.75" stroke="#333" stroke-width=".6"/>
<text class="d" x="46.9" y="251.15" font-size="8.5" stroke="#000" stroke-width="0.17" text-anchor="end">0.5</text>
<line x1="47.3" y1="266.29" x2="49.6" y2="266.29" stroke="#333" stroke-width=".6"/>
<text class="d" x="46.9" y="269.69" font-size="8.5" stroke="#000" stroke-width="0.17" text-anchor="end">0.3</text>
<line x1="47.3" y1="284.83" x2="49.6" y2="284.83" stroke="#333" stroke-width=".6"/>
<text class="d" x="46.9" y="288.23" font-size="8.5" stroke="#000" stroke-width="0.17" text-anchor="end">0.1</text>
<line x1="58.95" y1="294.1" x2="58.95" y2="296.3" stroke="#222" stroke-width=".7"/>
<text class="d" x="58.95" y="307.8" font-size="8.5" stroke="#000" stroke-width="0.17" text-anchor="middle" transform="rotate(-45 58.95 304.7)">0.1</text>
<line x1="77.65" y1="294.1" x2="77.65" y2="296.3" stroke="#222" stroke-width=".7"/>
<text class="d" x="77.65" y="307.8" font-size="8.5" stroke="#000" stroke-width="0.17" text-anchor="middle" transform="rotate(-45 77.65 304.7)">0.3</text>
<line x1="96.35" y1="294.1" x2="96.35" y2="296.3" stroke="#222" stroke-width=".7"/>
<text class="d" x="96.35" y="307.8" font-size="8.5" stroke="#000" stroke-width="0.17" text-anchor="middle" transform="rotate(-45 96.35 304.7)">0.5</text>
<line x1="115.05" y1="294.1" x2="115.05" y2="296.3" stroke="#222" stroke-width=".7"/>
<text class="d" x="115.05" y="307.8" font-size="8.5" stroke="#000" stroke-width="0.17" text-anchor="middle" transform="rotate(-45 115.05 304.7)">0.7</text>
<line x1="133.75" y1="294.1" x2="133.75" y2="296.3" stroke="#222" stroke-width=".7"/>
<text class="d" x="133.75" y="307.8" font-size="8.5" stroke="#000" stroke-width="0.17" text-anchor="middle" transform="rotate(-45 133.75 304.7)">0.9</text>
<text class="d" x="24.6" y="252.25" font-size="12" stroke="#000" stroke-width="0.24" text-anchor="middle" font-style="italic" transform="rotate(-90 24.6 248.15)">β</text>
<text class="d" x="96.15" y="324.1" font-size="12" stroke="#000" stroke-width="0.24" text-anchor="middle" font-style="italic">ϕ</text>
<text class="d" x="114.58" y="199.8" font-size="8.7" stroke="#000" stroke-width="0.17" text-anchor="middle" font-style="italic">mean=0.9</text>
<text class="l" x="24.2" y="204.5" font-size="10.8" stroke="#000" stroke-width="0.09">d</text>
<rect x="214.3" y="202.3" width="18.66" height="18.6" fill="#d2e3f3"/>
<rect x="232.66" y="202.3" width="18.66" height="18.6" fill="#cde0f1"/>
<rect x="251.02" y="202.3" width="18.66" height="18.6" fill="#bcd9eb"/>
<rect x="269.38" y="202.3" width="18.66" height="18.6" fill="#3b76b1"/>
<rect x="287.74" y="202.3" width="18.36" height="18.6" fill="#3971ab"/>
<rect x="214.3" y="220.6" width="18.66" height="18.6" fill="#b6d7e9"/>
<rect x="232.66" y="220.6" width="18.66" height="18.6" fill="#a9d0e5"/>
<rect x="251.02" y="220.6" width="18.66" height="18.6" fill="#9bc8e2"/>
<rect x="269.38" y="220.6" width="18.66" height="18.6" fill="#4583bc"/>
<rect x="287.74" y="220.6" width="18.36" height="18.6" fill="#427eb8"/>
<rect x="214.3" y="238.9" width="18.66" height="18.6" fill="#86bcdd"/>
<rect x="232.66" y="238.9" width="18.66" height="18.6" fill="#86bcdd"/>
<rect x="251.02" y="238.9" width="18.66" height="18.6" fill="#80b8db"/>
<rect x="269.38" y="238.9" width="18.66" height="18.6" fill="#4987bf"/>
<rect x="287.74" y="238.9" width="18.36" height="18.6" fill="#4583bc"/>
<rect x="214.3" y="257.2" width="18.66" height="18.6" fill="#68a8d2"/>
<rect x="232.66" y="257.2" width="18.66" height="18.6" fill="#68a8d2"/>
<rect x="251.02" y="257.2" width="18.66" height="18.6" fill="#68a8d2"/>
<rect x="269.38" y="257.2" width="18.66" height="18.6" fill="#5595c8"/>
<rect x="287.74" y="257.2" width="18.36" height="18.6" fill="#5191c6"/>
<rect x="214.3" y="275.5" width="18.66" height="18.3" fill="#5f9fcd"/>
<rect x="232.66" y="275.5" width="18.66" height="18.3" fill="#64a4cf"/>
<rect x="251.02" y="275.5" width="18.66" height="18.3" fill="#68a8d2"/>
<rect x="269.38" y="275.5" width="18.66" height="18.3" fill="#64a4cf"/>
<rect x="287.74" y="275.5" width="18.36" height="18.3" fill="#5f9fcd"/>
<line x1="232.66" y1="202.3" x2="232.66" y2="293.8" stroke="#fff" stroke-opacity=".45" stroke-width=".5"/>
<line x1="214.3" y1="220.6" x2="306.1" y2="220.6" stroke="#fff" stroke-opacity=".45" stroke-width=".5"/>
<line x1="251.02" y1="202.3" x2="251.02" y2="293.8" stroke="#fff" stroke-opacity=".45" stroke-width=".5"/>
<line x1="214.3" y1="238.9" x2="306.1" y2="238.9" stroke="#fff" stroke-opacity=".45" stroke-width=".5"/>
<line x1="269.38" y1="202.3" x2="269.38" y2="293.8" stroke="#fff" stroke-opacity=".45" stroke-width=".5"/>
<line x1="214.3" y1="257.2" x2="306.1" y2="257.2" stroke="#fff" stroke-opacity=".45" stroke-width=".5"/>
<line x1="287.74" y1="202.3" x2="287.74" y2="293.8" stroke="#fff" stroke-opacity=".45" stroke-width=".5"/>
<line x1="214.3" y1="275.5" x2="306.1" y2="275.5" stroke="#fff" stroke-opacity=".45" stroke-width=".5"/>
<path d="M214.7 293.8V202.7H306.1" fill="none" stroke="#6a7078" stroke-opacity=".8" stroke-width=".8"/>
<text class="d" x="223.48" y="213.75" font-size="6.3" stroke="#111" stroke-width="0.14" text-anchor="middle" fill="#111">0.66</text>
<text class="d" x="241.84" y="213.75" font-size="6.3" stroke="#111" stroke-width="0.14" text-anchor="middle" fill="#111">0.67</text>
<text class="d" x="260.2" y="213.75" font-size="6.3" stroke="#111" stroke-width="0.14" text-anchor="middle" fill="#111">0.7</text>
<text class="d" x="278.56" y="213.75" font-size="6.3" text-anchor="middle" fill="#fff">0.94</text>
<text class="d" x="296.92" y="213.75" font-size="6.3" text-anchor="middle" fill="#fff">0.95</text>
<text class="d" x="223.48" y="232.05" font-size="6.3" stroke="#111" stroke-width="0.14" text-anchor="middle" fill="#111">0.71</text>
<text class="d" x="241.84" y="232.05" font-size="6.3" stroke="#111" stroke-width="0.14" text-anchor="middle" fill="#111">0.73</text>
<text class="d" x="260.2" y="232.05" font-size="6.3" stroke="#111" stroke-width="0.14" text-anchor="middle" fill="#111">0.75</text>
<text class="d" x="278.56" y="232.05" font-size="6.3" text-anchor="middle" fill="#fff">0.91</text>
<text class="d" x="296.92" y="232.05" font-size="6.3" text-anchor="middle" fill="#fff">0.92</text>
<text class="d" x="223.48" y="250.35" font-size="6.3" stroke="#111" stroke-width="0.14" text-anchor="middle" fill="#111">0.78</text>
<text class="d" x="241.84" y="250.35" font-size="6.3" stroke="#111" stroke-width="0.14" text-anchor="middle" fill="#111">0.78</text>
<text class="d" x="260.2" y="250.35" font-size="6.3" stroke="#111" stroke-width="0.14" text-anchor="middle" fill="#111">0.79</text>
<text class="d" x="278.56" y="250.35" font-size="6.3" stroke="#111" stroke-width="0.14" text-anchor="middle" fill="#111">0.9</text>
<text class="d" x="296.92" y="250.35" font-size="6.3" text-anchor="middle" fill="#fff">0.91</text>
<text class="d" x="223.48" y="268.65" font-size="6.3" stroke="#111" stroke-width="0.14" text-anchor="middle" fill="#111">0.83</text>
<text class="d" x="241.84" y="268.65" font-size="6.3" stroke="#111" stroke-width="0.14" text-anchor="middle" fill="#111">0.83</text>
<text class="d" x="260.2" y="268.65" font-size="6.3" stroke="#111" stroke-width="0.14" text-anchor="middle" fill="#111">0.83</text>
<text class="d" x="278.56" y="268.65" font-size="6.3" stroke="#111" stroke-width="0.14" text-anchor="middle" fill="#111">0.87</text>
<text class="d" x="296.92" y="268.65" font-size="6.3" stroke="#111" stroke-width="0.14" text-anchor="middle" fill="#111">0.88</text>
<text class="d" x="223.48" y="286.95" font-size="6.3" stroke="#111" stroke-width="0.14" text-anchor="middle" fill="#111">0.85</text>
<text class="d" x="241.84" y="286.95" font-size="6.3" stroke="#111" stroke-width="0.14" text-anchor="middle" fill="#111">0.84</text>
<text class="d" x="260.2" y="286.95" font-size="6.3" stroke="#111" stroke-width="0.14" text-anchor="middle" fill="#111">0.83</text>
<text class="d" x="278.56" y="286.95" font-size="6.3" stroke="#111" stroke-width="0.14" text-anchor="middle" fill="#111">0.84</text>
<text class="d" x="296.92" y="286.95" font-size="6.3" stroke="#111" stroke-width="0.14" text-anchor="middle" fill="#111">0.85</text>
<line x1="212" y1="211.45" x2="214.3" y2="211.45" stroke="#333" stroke-width=".6"/>
<text class="d" x="211.6" y="214.85" font-size="8.5" stroke="#000" stroke-width="0.17" text-anchor="end">0.9</text>
<line x1="212" y1="229.75" x2="214.3" y2="229.75" stroke="#333" stroke-width=".6"/>
<text class="d" x="211.6" y="233.15" font-size="8.5" stroke="#000" stroke-width="0.17" text-anchor="end">0.7</text>
<line x1="212" y1="248.05" x2="214.3" y2="248.05" stroke="#333" stroke-width=".6"/>
<text class="d" x="211.6" y="251.45" font-size="8.5" stroke="#000" stroke-width="0.17" text-anchor="end">0.5</text>
<line x1="212" y1="266.35" x2="214.3" y2="266.35" stroke="#333" stroke-width=".6"/>
<text class="d" x="211.6" y="269.75" font-size="8.5" stroke="#000" stroke-width="0.17" text-anchor="end">0.3</text>
<line x1="212" y1="284.65" x2="214.3" y2="284.65" stroke="#333" stroke-width=".6"/>
<text class="d" x="211.6" y="288.05" font-size="8.5" stroke="#000" stroke-width="0.17" text-anchor="end">0.1</text>
<line x1="223.48" y1="293.8" x2="223.48" y2="296" stroke="#222" stroke-width=".7"/>
<text class="d" x="223.48" y="307.5" font-size="8.5" stroke="#000" stroke-width="0.17" text-anchor="middle" transform="rotate(-45 223.48 304.4)">0.1</text>
<line x1="241.84" y1="293.8" x2="241.84" y2="296" stroke="#222" stroke-width=".7"/>
<text class="d" x="241.84" y="307.5" font-size="8.5" stroke="#000" stroke-width="0.17" text-anchor="middle" transform="rotate(-45 241.84 304.4)">0.3</text>
<line x1="260.2" y1="293.8" x2="260.2" y2="296" stroke="#222" stroke-width=".7"/>
<text class="d" x="260.2" y="307.5" font-size="8.5" stroke="#000" stroke-width="0.17" text-anchor="middle" transform="rotate(-45 260.2 304.4)">0.5</text>
<line x1="278.56" y1="293.8" x2="278.56" y2="296" stroke="#222" stroke-width=".7"/>
<text class="d" x="278.56" y="307.5" font-size="8.5" stroke="#000" stroke-width="0.17" text-anchor="middle" transform="rotate(-45 278.56 304.4)">0.7</text>
<line x1="296.92" y1="293.8" x2="296.92" y2="296" stroke="#222" stroke-width=".7"/>
<text class="d" x="296.92" y="307.5" font-size="8.5" stroke="#000" stroke-width="0.17" text-anchor="middle" transform="rotate(-45 296.92 304.4)">0.9</text>
<text class="d" x="188.6" y="252.55" font-size="12" stroke="#000" stroke-width="0.24" text-anchor="middle" font-style="italic" transform="rotate(-90 188.6 248.45)">β</text>
<text class="d" x="260" y="323.8" font-size="12" stroke="#000" stroke-width="0.24" text-anchor="middle" font-style="italic">ϕ</text>
<text class="d" x="278.1" y="201.6" font-size="8.7" stroke="#000" stroke-width="0.17" text-anchor="middle" font-style="italic">mean=0.82</text>
<text class="l" x="188.5" y="204.5" font-size="10.8" stroke="#000" stroke-width="0.09">e</text>
<rect x="215" y="276.9" width="16.66" height="16.2" fill="none" stroke="#2b2f33" stroke-width="1.4"/>
<line x1="214.5" y1="294" x2="204.22" y2="304.23" stroke="#000" stroke-width="1.3"/>
<polygon points="202.09,306.35 204.23,300.55 207.89,304.24" fill="#000"/>
<circle cx="195" cy="313.4" r="8.9" fill="#fff" stroke="#111" stroke-width=".85"/>
<text class="l" x="195" y="317.7" font-size="12.6" stroke="#000" stroke-width="0.1" text-anchor="middle">j</text>
<rect x="375.6" y="201.4" width="19" height="18.78" fill="#d6e5f4"/>
<rect x="394.3" y="201.4" width="19" height="18.78" fill="#d2e3f3"/>
<rect x="413" y="201.4" width="19" height="18.78" fill="#c8deef"/>
<rect x="431.7" y="201.4" width="19" height="18.78" fill="#cde0f1"/>
<rect x="450.4" y="201.4" width="18.7" height="18.78" fill="#cde0f1"/>
<rect x="375.6" y="219.88" width="19" height="18.78" fill="#c8deef"/>
<rect x="394.3" y="219.88" width="19" height="18.78" fill="#bcd9eb"/>
<rect x="413" y="219.88" width="19" height="18.78" fill="#b1d4e7"/>
<rect x="431.7" y="219.88" width="19" height="18.78" fill="#b6d7e9"/>
<rect x="450.4" y="219.88" width="18.7" height="18.78" fill="#b6d7e9"/>
<rect x="375.6" y="238.36" width="19" height="18.78" fill="#b6d7e9"/>
<rect x="394.3" y="238.36" width="19" height="18.78" fill="#a9d0e5"/>
<rect x="413" y="238.36" width="19" height="18.78" fill="#a2cce4"/>
<rect x="431.7" y="238.36" width="19" height="18.78" fill="#a2cce4"/>
<rect x="450.4" y="238.36" width="18.7" height="18.78" fill="#9bc8e2"/>
<rect x="375.6" y="256.84" width="19" height="18.78" fill="#a2cce4"/>
<rect x="394.3" y="256.84" width="19" height="18.78" fill="#93c4e1"/>
<rect x="413" y="256.84" width="19" height="18.78" fill="#86bcdd"/>
<rect x="431.7" y="256.84" width="19" height="18.78" fill="#8cc0df"/>
<rect x="450.4" y="256.84" width="18.7" height="18.78" fill="#86bcdd"/>
<rect x="375.6" y="275.32" width="19" height="18.48" fill="#9bc8e2"/>
<rect x="394.3" y="275.32" width="19" height="18.48" fill="#8cc0df"/>
<rect x="413" y="275.32" width="19" height="18.48" fill="#80b8db"/>
<rect x="431.7" y="275.32" width="19" height="18.48" fill="#75b0d6"/>
<rect x="450.4" y="275.32" width="18.7" height="18.48" fill="#75b0d6"/>
<line x1="394.3" y1="201.4" x2="394.3" y2="293.8" stroke="#fff" stroke-opacity=".45" stroke-width=".5"/>
<line x1="375.6" y1="219.88" x2="469.1" y2="219.88" stroke="#fff" stroke-opacity=".45" stroke-width=".5"/>
<line x1="413" y1="201.4" x2="413" y2="293.8" stroke="#fff" stroke-opacity=".45" stroke-width=".5"/>
<line x1="375.6" y1="238.36" x2="469.1" y2="238.36" stroke="#fff" stroke-opacity=".45" stroke-width=".5"/>
<line x1="431.7" y1="201.4" x2="431.7" y2="293.8" stroke="#fff" stroke-opacity=".45" stroke-width=".5"/>
<line x1="375.6" y1="256.84" x2="469.1" y2="256.84" stroke="#fff" stroke-opacity=".45" stroke-width=".5"/>
<line x1="450.4" y1="201.4" x2="450.4" y2="293.8" stroke="#fff" stroke-opacity=".45" stroke-width=".5"/>
<line x1="375.6" y1="275.32" x2="469.1" y2="275.32" stroke="#fff" stroke-opacity=".45" stroke-width=".5"/>
<path d="M376 293.8V201.8H469.1" fill="none" stroke="#6a7078" stroke-opacity=".8" stroke-width=".8"/>
<text class="d" x="384.95" y="212.94" font-size="6.3" stroke="#111" stroke-width="0.14" text-anchor="middle" fill="#111">0.65</text>
<text class="d" x="403.65" y="212.94" font-size="6.3" stroke="#111" stroke-width="0.14" text-anchor="middle" fill="#111">0.66</text>
<text class="d" x="422.35" y="212.94" font-size="6.3" stroke="#111" stroke-width="0.14" text-anchor="middle" fill="#111">0.68</text>
<text class="d" x="441.05" y="212.94" font-size="6.3" stroke="#111" stroke-width="0.14" text-anchor="middle" fill="#111">0.67</text>
<text class="d" x="459.75" y="212.94" font-size="6.3" stroke="#111" stroke-width="0.14" text-anchor="middle" fill="#111">0.67</text>
<text class="d" x="384.95" y="231.42" font-size="6.3" stroke="#111" stroke-width="0.14" text-anchor="middle" fill="#111">0.68</text>
<text class="d" x="403.65" y="231.42" font-size="6.3" stroke="#111" stroke-width="0.14" text-anchor="middle" fill="#111">0.7</text>
<text class="d" x="422.35" y="231.42" font-size="6.3" stroke="#111" stroke-width="0.14" text-anchor="middle" fill="#111">0.72</text>
<text class="d" x="441.05" y="231.42" font-size="6.3" stroke="#111" stroke-width="0.14" text-anchor="middle" fill="#111">0.71</text>
<text class="d" x="459.75" y="231.42" font-size="6.3" stroke="#111" stroke-width="0.14" text-anchor="middle" fill="#111">0.71</text>
<text class="d" x="384.95" y="249.9" font-size="6.3" stroke="#111" stroke-width="0.14" text-anchor="middle" fill="#111">0.71</text>
<text class="d" x="403.65" y="249.9" font-size="6.3" stroke="#111" stroke-width="0.14" text-anchor="middle" fill="#111">0.73</text>
<text class="d" x="422.35" y="249.9" font-size="6.3" stroke="#111" stroke-width="0.14" text-anchor="middle" fill="#111">0.74</text>
<text class="d" x="441.05" y="249.9" font-size="6.3" stroke="#111" stroke-width="0.14" text-anchor="middle" fill="#111">0.74</text>
<text class="d" x="459.75" y="249.9" font-size="6.3" stroke="#111" stroke-width="0.14" text-anchor="middle" fill="#111">0.75</text>
<text class="d" x="384.95" y="268.38" font-size="6.3" stroke="#111" stroke-width="0.14" text-anchor="middle" fill="#111">0.74</text>
<text class="d" x="403.65" y="268.38" font-size="6.3" stroke="#111" stroke-width="0.14" text-anchor="middle" fill="#111">0.76</text>
<text class="d" x="422.35" y="268.38" font-size="6.3" stroke="#111" stroke-width="0.14" text-anchor="middle" fill="#111">0.78</text>
<text class="d" x="441.05" y="268.38" font-size="6.3" stroke="#111" stroke-width="0.14" text-anchor="middle" fill="#111">0.77</text>
<text class="d" x="459.75" y="268.38" font-size="6.3" stroke="#111" stroke-width="0.14" text-anchor="middle" fill="#111">0.78</text>
<text class="d" x="384.95" y="286.86" font-size="6.3" stroke="#111" stroke-width="0.14" text-anchor="middle" fill="#111">0.75</text>
<text class="d" x="403.65" y="286.86" font-size="6.3" stroke="#111" stroke-width="0.14" text-anchor="middle" fill="#111">0.77</text>
<text class="d" x="422.35" y="286.86" font-size="6.3" stroke="#111" stroke-width="0.14" text-anchor="middle" fill="#111">0.79</text>
<text class="d" x="441.05" y="286.86" font-size="6.3" stroke="#111" stroke-width="0.14" text-anchor="middle" fill="#111">0.81</text>
<text class="d" x="459.75" y="286.86" font-size="6.3" stroke="#111" stroke-width="0.14" text-anchor="middle" fill="#111">0.81</text>
<line x1="373.3" y1="210.64" x2="375.6" y2="210.64" stroke="#333" stroke-width=".6"/>
<text class="d" x="372.9" y="214.04" font-size="8.5" stroke="#000" stroke-width="0.17" text-anchor="end">0.9</text>
<line x1="373.3" y1="229.12" x2="375.6" y2="229.12" stroke="#333" stroke-width=".6"/>
<text class="d" x="372.9" y="232.52" font-size="8.5" stroke="#000" stroke-width="0.17" text-anchor="end">0.7</text>
<line x1="373.3" y1="247.6" x2="375.6" y2="247.6" stroke="#333" stroke-width=".6"/>
<text class="d" x="372.9" y="251" font-size="8.5" stroke="#000" stroke-width="0.17" text-anchor="end">0.5</text>
<line x1="373.3" y1="266.08" x2="375.6" y2="266.08" stroke="#333" stroke-width=".6"/>
<text class="d" x="372.9" y="269.48" font-size="8.5" stroke="#000" stroke-width="0.17" text-anchor="end">0.3</text>
<line x1="373.3" y1="284.56" x2="375.6" y2="284.56" stroke="#333" stroke-width=".6"/>
<text class="d" x="372.9" y="287.96" font-size="8.5" stroke="#000" stroke-width="0.17" text-anchor="end">0.1</text>
<line x1="384.95" y1="293.8" x2="384.95" y2="296" stroke="#222" stroke-width=".7"/>
<text class="d" x="384.95" y="307.5" font-size="8.5" stroke="#000" stroke-width="0.17" text-anchor="middle" transform="rotate(-45 384.95 304.4)">0.1</text>
<line x1="403.65" y1="293.8" x2="403.65" y2="296" stroke="#222" stroke-width=".7"/>
<text class="d" x="403.65" y="307.5" font-size="8.5" stroke="#000" stroke-width="0.17" text-anchor="middle" transform="rotate(-45 403.65 304.4)">0.3</text>
<line x1="422.35" y1="293.8" x2="422.35" y2="296" stroke="#222" stroke-width=".7"/>
<text class="d" x="422.35" y="307.5" font-size="8.5" stroke="#000" stroke-width="0.17" text-anchor="middle" transform="rotate(-45 422.35 304.4)">0.5</text>
<line x1="441.05" y1="293.8" x2="441.05" y2="296" stroke="#222" stroke-width=".7"/>
<text class="d" x="441.05" y="307.5" font-size="8.5" stroke="#000" stroke-width="0.17" text-anchor="middle" transform="rotate(-45 441.05 304.4)">0.7</text>
<line x1="459.75" y1="293.8" x2="459.75" y2="296" stroke="#222" stroke-width=".7"/>
<text class="d" x="459.75" y="307.5" font-size="8.5" stroke="#000" stroke-width="0.17" text-anchor="middle" transform="rotate(-45 459.75 304.4)">0.9</text>
<text class="d" x="350" y="252.1" font-size="12" stroke="#000" stroke-width="0.24" text-anchor="middle" font-style="italic" transform="rotate(-90 350 248)">β</text>
<text class="d" x="422.15" y="323.8" font-size="12" stroke="#000" stroke-width="0.24" text-anchor="middle" font-style="italic">ϕ</text>
<text class="d" x="440.58" y="200" font-size="8.7" stroke="#000" stroke-width="0.17" text-anchor="middle" font-style="italic">mean=0.73</text>
<text class="l" x="343.5" y="204.5" font-size="10.8" stroke="#000" stroke-width="0.09">f</text>
<rect x="376.3" y="276.72" width="17" height="16.38" fill="none" stroke="#2b2f33" stroke-width="1.4"/>
<line x1="375.8" y1="294" x2="365.69" y2="303.9" stroke="#000" stroke-width="1.3"/>
<polygon points="363.54,306 365.73,300.23 369.36,303.94" fill="#000"/>
<circle cx="356.4" cy="313" r="8.9" fill="#fff" stroke="#111" stroke-width=".85"/>
<text class="l" x="356.4" y="317.3" font-size="12.6" stroke="#000" stroke-width="0.1" text-anchor="middle">k</text>
<rect x="533.2" y="199.4" width="19.14" height="18.88" fill="#b6d7e9"/>
<rect x="552.04" y="199.4" width="19.14" height="18.88" fill="#b6d7e9"/>
<rect x="570.88" y="199.4" width="19.14" height="18.88" fill="#bcd9eb"/>
<rect x="589.72" y="199.4" width="19.14" height="18.88" fill="#c8deef"/>
<rect x="608.56" y="199.4" width="18.84" height="18.88" fill="#cde0f1"/>
<rect x="533.2" y="217.98" width="19.14" height="18.88" fill="#b1d4e7"/>
<rect x="552.04" y="217.98" width="19.14" height="18.88" fill="#b1d4e7"/>
<rect x="570.88" y="217.98" width="19.14" height="18.88" fill="#b6d7e9"/>
<rect x="589.72" y="217.98" width="19.14" height="18.88" fill="#c2dced"/>
<rect x="608.56" y="217.98" width="18.84" height="18.88" fill="#c8deef"/>
<rect x="533.2" y="236.56" width="19.14" height="18.88" fill="#a9d0e5"/>
<rect x="552.04" y="236.56" width="19.14" height="18.88" fill="#a9d0e5"/>
<rect x="570.88" y="236.56" width="19.14" height="18.88" fill="#b1d4e7"/>
<rect x="589.72" y="236.56" width="19.14" height="18.88" fill="#bcd9eb"/>
<rect x="608.56" y="236.56" width="18.84" height="18.88" fill="#c2dced"/>
<rect x="533.2" y="255.14" width="19.14" height="18.88" fill="#a2cce4"/>
<rect x="552.04" y="255.14" width="19.14" height="18.88" fill="#a2cce4"/>
<rect x="570.88" y="255.14" width="19.14" height="18.88" fill="#a9d0e5"/>
<rect x="589.72" y="255.14" width="19.14" height="18.88" fill="#b6d7e9"/>
<rect x="608.56" y="255.14" width="18.84" height="18.88" fill="#bcd9eb"/>
<rect x="533.2" y="273.72" width="19.14" height="18.58" fill="#9bc8e2"/>
<rect x="552.04" y="273.72" width="19.14" height="18.58" fill="#9bc8e2"/>
<rect x="570.88" y="273.72" width="19.14" height="18.58" fill="#a2cce4"/>
<rect x="589.72" y="273.72" width="19.14" height="18.58" fill="#a9d0e5"/>
<rect x="608.56" y="273.72" width="18.84" height="18.58" fill="#b6d7e9"/>
<line x1="552.04" y1="199.4" x2="552.04" y2="292.3" stroke="#fff" stroke-opacity=".45" stroke-width=".5"/>
<line x1="533.2" y1="217.98" x2="627.4" y2="217.98" stroke="#fff" stroke-opacity=".45" stroke-width=".5"/>
<line x1="570.88" y1="199.4" x2="570.88" y2="292.3" stroke="#fff" stroke-opacity=".45" stroke-width=".5"/>
<line x1="533.2" y1="236.56" x2="627.4" y2="236.56" stroke="#fff" stroke-opacity=".45" stroke-width=".5"/>
<line x1="589.72" y1="199.4" x2="589.72" y2="292.3" stroke="#fff" stroke-opacity=".45" stroke-width=".5"/>
<line x1="533.2" y1="255.14" x2="627.4" y2="255.14" stroke="#fff" stroke-opacity=".45" stroke-width=".5"/>
<line x1="608.56" y1="199.4" x2="608.56" y2="292.3" stroke="#fff" stroke-opacity=".45" stroke-width=".5"/>
<line x1="533.2" y1="273.72" x2="627.4" y2="273.72" stroke="#fff" stroke-opacity=".45" stroke-width=".5"/>
<path d="M533.6 292.3V199.8H627.4" fill="none" stroke="#6a7078" stroke-opacity=".8" stroke-width=".8"/>
<text class="d" x="542.62" y="210.72" font-size="6.1" stroke="#111" stroke-width="0.05" text-anchor="middle" fill="#111">0.71</text>
<text class="d" x="561.46" y="210.72" font-size="6.1" stroke="#111" stroke-width="0.05" text-anchor="middle" fill="#111">0.71</text>
<text class="d" x="580.3" y="210.72" font-size="6.1" stroke="#111" stroke-width="0.05" text-anchor="middle" fill="#111">0.7</text>
<text class="d" x="599.14" y="210.72" font-size="6.1" stroke="#111" stroke-width="0.05" text-anchor="middle" fill="#111">0.68</text>
<text class="d" x="617.98" y="210.72" font-size="6.1" stroke="#111" stroke-width="0.05" text-anchor="middle" fill="#111">0.67</text>
<text class="d" x="542.62" y="229.3" font-size="6.1" stroke="#111" stroke-width="0.05" text-anchor="middle" fill="#111">0.72</text>
<text class="d" x="561.46" y="229.3" font-size="6.1" stroke="#111" stroke-width="0.05" text-anchor="middle" fill="#111">0.72</text>
<text class="d" x="580.3" y="229.3" font-size="6.1" stroke="#111" stroke-width="0.05" text-anchor="middle" fill="#111">0.71</text>
<text class="d" x="599.14" y="229.3" font-size="6.1" stroke="#111" stroke-width="0.05" text-anchor="middle" fill="#111">0.69</text>
<text class="d" x="617.98" y="229.3" font-size="6.1" stroke="#111" stroke-width="0.05" text-anchor="middle" fill="#111">0.68</text>
<text class="d" x="542.62" y="247.88" font-size="6.1" stroke="#111" stroke-width="0.05" text-anchor="middle" fill="#111">0.73</text>
<text class="d" x="561.46" y="247.88" font-size="6.1" stroke="#111" stroke-width="0.05" text-anchor="middle" fill="#111">0.73</text>
<text class="d" x="580.3" y="247.88" font-size="6.1" stroke="#111" stroke-width="0.05" text-anchor="middle" fill="#111">0.72</text>
<text class="d" x="599.14" y="247.88" font-size="6.1" stroke="#111" stroke-width="0.05" text-anchor="middle" fill="#111">0.7</text>
<text class="d" x="617.98" y="247.88" font-size="6.1" stroke="#111" stroke-width="0.05" text-anchor="middle" fill="#111">0.69</text>
<text class="d" x="542.62" y="266.46" font-size="6.1" stroke="#111" stroke-width="0.05" text-anchor="middle" fill="#111">0.74</text>
<text class="d" x="561.46" y="266.46" font-size="6.1" stroke="#111" stroke-width="0.05" text-anchor="middle" fill="#111">0.74</text>
<text class="d" x="580.3" y="266.46" font-size="6.1" stroke="#111" stroke-width="0.05" text-anchor="middle" fill="#111">0.73</text>
<text class="d" x="599.14" y="266.46" font-size="6.1" stroke="#111" stroke-width="0.05" text-anchor="middle" fill="#111">0.71</text>
<text class="d" x="617.98" y="266.46" font-size="6.1" stroke="#111" stroke-width="0.05" text-anchor="middle" fill="#111">0.7</text>
<text class="d" x="542.62" y="285.04" font-size="6.1" stroke="#111" stroke-width="0.05" text-anchor="middle" fill="#111">0.75</text>
<text class="d" x="561.46" y="285.04" font-size="6.1" stroke="#111" stroke-width="0.05" text-anchor="middle" fill="#111">0.75</text>
<text class="d" x="580.3" y="285.04" font-size="6.1" stroke="#111" stroke-width="0.05" text-anchor="middle" fill="#111">0.74</text>
<text class="d" x="599.14" y="285.04" font-size="6.1" stroke="#111" stroke-width="0.05" text-anchor="middle" fill="#111">0.73</text>
<text class="d" x="617.98" y="285.04" font-size="6.1" stroke="#111" stroke-width="0.05" text-anchor="middle" fill="#111">0.71</text>
<line x1="530.9" y1="208.69" x2="533.2" y2="208.69" stroke="#333" stroke-width=".6"/>
<text class="d" x="520.4" y="212.29" font-size="9" stroke="#000" stroke-width="0.18" font-style="italic">q</text>
<text class="d" x="526.1" y="214.79" font-size="5.9" stroke="#000" stroke-width="0.12">5</text>
<text class="d" x="526.6" y="208.09" font-size="6.1" stroke="#000" stroke-width="0.12" font-style="italic">β</text>
<line x1="530.9" y1="227.27" x2="533.2" y2="227.27" stroke="#333" stroke-width=".6"/>
<text class="d" x="520.4" y="230.87" font-size="9" stroke="#000" stroke-width="0.18" font-style="italic">q</text>
<text class="d" x="526.1" y="233.37" font-size="5.9" stroke="#000" stroke-width="0.12">4</text>
<text class="d" x="526.6" y="226.67" font-size="6.1" stroke="#000" stroke-width="0.12" font-style="italic">β</text>
<line x1="530.9" y1="245.85" x2="533.2" y2="245.85" stroke="#333" stroke-width=".6"/>
<text class="d" x="520.4" y="249.45" font-size="9" stroke="#000" stroke-width="0.18" font-style="italic">q</text>
<text class="d" x="526.1" y="251.95" font-size="5.9" stroke="#000" stroke-width="0.12">3</text>
<text class="d" x="526.6" y="245.25" font-size="6.1" stroke="#000" stroke-width="0.12" font-style="italic">β</text>
<line x1="530.9" y1="264.43" x2="533.2" y2="264.43" stroke="#333" stroke-width=".6"/>
<text class="d" x="520.4" y="268.03" font-size="9" stroke="#000" stroke-width="0.18" font-style="italic">q</text>
<text class="d" x="526.1" y="270.53" font-size="5.9" stroke="#000" stroke-width="0.12">2</text>
<text class="d" x="526.6" y="263.83" font-size="6.1" stroke="#000" stroke-width="0.12" font-style="italic">β</text>
<line x1="530.9" y1="283.01" x2="533.2" y2="283.01" stroke="#333" stroke-width=".6"/>
<text class="d" x="520.4" y="286.61" font-size="9" stroke="#000" stroke-width="0.18" font-style="italic">q</text>
<text class="d" x="526.1" y="289.11" font-size="5.9" stroke="#000" stroke-width="0.12">1</text>
<text class="d" x="526.6" y="282.41" font-size="6.1" stroke="#000" stroke-width="0.12" font-style="italic">β</text>
<line x1="542.62" y1="292.3" x2="542.62" y2="294.5" stroke="#222" stroke-width=".7"/>
<g transform="rotate(-45 542.62 303.3)">
<text class="d" x="537.82" y="306.6" font-size="9" stroke="#000" stroke-width="0.18" font-style="italic">q</text>
<text class="d" x="543.52" y="309.1" font-size="5.9" stroke="#000" stroke-width="0.12">1</text>
<text class="d" x="544.02" y="302.4" font-size="6.1" stroke="#000" stroke-width="0.12" font-style="italic">ϕ</text>
</g>
<line x1="561.46" y1="292.3" x2="561.46" y2="294.5" stroke="#222" stroke-width=".7"/>
<g transform="rotate(-45 561.46 303.3)">
<text class="d" x="556.66" y="306.6" font-size="9" stroke="#000" stroke-width="0.18" font-style="italic">q</text>
<text class="d" x="562.36" y="309.1" font-size="5.9" stroke="#000" stroke-width="0.12">2</text>
<text class="d" x="562.86" y="302.4" font-size="6.1" stroke="#000" stroke-width="0.12" font-style="italic">ϕ</text>
</g>
<line x1="580.3" y1="292.3" x2="580.3" y2="294.5" stroke="#222" stroke-width=".7"/>
<g transform="rotate(-45 580.3 303.3)">
<text class="d" x="575.5" y="306.6" font-size="9" stroke="#000" stroke-width="0.18" font-style="italic">q</text>
<text class="d" x="581.2" y="309.1" font-size="5.9" stroke="#000" stroke-width="0.12">3</text>
<text class="d" x="581.7" y="302.4" font-size="6.1" stroke="#000" stroke-width="0.12" font-style="italic">ϕ</text>
</g>
<line x1="599.14" y1="292.3" x2="599.14" y2="294.5" stroke="#222" stroke-width=".7"/>
<g transform="rotate(-45 599.14 303.3)">
<text class="d" x="594.34" y="306.6" font-size="9" stroke="#000" stroke-width="0.18" font-style="italic">q</text>
<text class="d" x="600.04" y="309.1" font-size="5.9" stroke="#000" stroke-width="0.12">4</text>
<text class="d" x="600.54" y="302.4" font-size="6.1" stroke="#000" stroke-width="0.12" font-style="italic">ϕ</text>
</g>
<line x1="617.98" y1="292.3" x2="617.98" y2="294.5" stroke="#222" stroke-width=".7"/>
<g transform="rotate(-45 617.98 303.3)">
<text class="d" x="613.18" y="306.6" font-size="9" stroke="#000" stroke-width="0.18" font-style="italic">q</text>
<text class="d" x="618.88" y="309.1" font-size="5.9" stroke="#000" stroke-width="0.12">5</text>
<text class="d" x="619.38" y="302.4" font-size="6.1" stroke="#000" stroke-width="0.12" font-style="italic">ϕ</text>
</g>
<text class="d" x="511.7" y="250.35" font-size="12" stroke="#000" stroke-width="0.24" text-anchor="middle" font-style="italic" transform="rotate(-90 511.7 246.25)">β</text>
<text class="d" x="580.1" y="322.3" font-size="12" stroke="#000" stroke-width="0.24" text-anchor="middle" font-style="italic">ϕ</text>
<text class="d" x="598.67" y="197.9" font-size="8.7" stroke="#000" stroke-width="0.05" text-anchor="middle" font-style="italic">mean=0.71</text>
<text class="l" x="504.5" y="205" font-size="11.6" stroke="#000" stroke-width="0.09">g</text>
<rect x="534.05" y="275.27" width="16.84" height="16.18" fill="none" stroke="#000" stroke-width="1.7"/>
<line x1="533.4" y1="292.5" x2="523.44" y2="302.15" stroke="#000" stroke-width="1.3"/>
<polygon points="521.28,304.24 523.49,298.48 527.11,302.21" fill="#000"/>
<circle cx="514.1" cy="311.2" r="8.9" fill="#fff" stroke="#111" stroke-width=".85"/>
<text class="l" x="514.1" y="315.5" font-size="12.6" stroke="#000" stroke-width="0.1" text-anchor="middle">l</text>
<defs><linearGradient id="gb" x1="0" y1="0" x2="0" y2="1">
<stop offset="0" stop-color="#395989"/>
<stop offset="0.1" stop-color="#396ea7"/>
<stop offset="0.2" stop-color="#4583bc"/>
<stop offset="0.3" stop-color="#5898c9"/>
<stop offset="0.4" stop-color="#6eacd4"/>
<stop offset="0.5" stop-color="#88bede"/>
<stop offset="0.6" stop-color="#a9d0e5"/>
<stop offset="0.7" stop-color="#c5ddee"/>
<stop offset="0.8" stop-color="#d9e7f5"/>
<stop offset="0.9" stop-color="#e9f2fa"/>
<stop offset="1" stop-color="#f9fcff"/>
</linearGradient><linearGradient id="gg" x1="0" y1="0" x2="0" y2="1">
<stop offset="0" stop-color="#666666"/>
<stop offset="0.1" stop-color="#777777"/>
<stop offset="0.2" stop-color="#8c8c8c"/>
<stop offset="0.3" stop-color="#9f9f9f"/>
<stop offset="0.4" stop-color="#afafaf"/>
<stop offset="0.5" stop-color="#c0c0c0"/>
<stop offset="0.6" stop-color="#d3d3d3"/>
<stop offset="0.7" stop-color="#e2e2e2"/>
<stop offset="0.8" stop-color="#eeeeee"/>
<stop offset="0.9" stop-color="#f8f8f8"/>
<stop offset="1" stop-color="#ffffff"/>
</linearGradient></defs>
<rect x="650.4" y="201.3" width="11.4" height="91.5" fill="url(#gb)" stroke="#888" stroke-width=".6"/>
<line x1="661.8" y1="201.3" x2="663.6" y2="201.3" stroke="#222" stroke-width=".6"/>
<text class="d" x="664.1" y="204.8" font-size="7.9" stroke="#000" stroke-width="0.1">1.0</text>
<line x1="661.8" y1="221.63" x2="663.6" y2="221.63" stroke="#222" stroke-width=".6"/>
<text class="d" x="664.1" y="225.13" font-size="7.9" stroke="#000" stroke-width="0.1">0.9</text>
<line x1="661.8" y1="241.97" x2="663.6" y2="241.97" stroke="#222" stroke-width=".6"/>
<text class="d" x="664.1" y="245.47" font-size="7.9" stroke="#000" stroke-width="0.1">0.8</text>
<line x1="661.8" y1="262.3" x2="663.6" y2="262.3" stroke="#222" stroke-width=".6"/>
<text class="d" x="664.1" y="265.8" font-size="7.9" stroke="#000" stroke-width="0.1">0.7</text>
<line x1="661.8" y1="282.63" x2="663.6" y2="282.63" stroke="#222" stroke-width=".6"/>
<text class="d" x="664.1" y="286.13" font-size="7.9" stroke="#000" stroke-width="0.1">0.6</text>
<text class="d" x="684.2" y="247.3" font-size="8.65" stroke="#000" stroke-width="0.15" text-anchor="middle" transform="rotate(-90 684.2 247.3)">Accuracy</text>
<rect x="520.9" y="33.3" width="16.13" height="15.93" fill="#ffffff"/>
<text class="d" x="528.87" y="42.87" font-size="4.9" stroke="#222" stroke-width="0.1" text-anchor="middle" fill="#222">0</text>
<rect x="536.83" y="33.3" width="16.13" height="15.93" fill="#ffffff"/>
<text class="d" x="544.8" y="42.87" font-size="4.9" stroke="#222" stroke-width="0.1" text-anchor="middle" fill="#222">0</text>
<rect x="552.77" y="33.3" width="16.13" height="15.93" fill="#a2a2a2"/>
<text class="d" x="560.73" y="42.87" font-size="4.9" stroke="#222" stroke-width="0.1" text-anchor="middle" fill="#222">1575</text>
<rect x="520.9" y="49.03" width="16.13" height="15.93" fill="#f8f8f8"/>
<text class="d" x="528.87" y="58.6" font-size="4.9" stroke="#222" stroke-width="0.1" text-anchor="middle" fill="#222">221</text>
<rect x="536.83" y="49.03" width="16.13" height="15.93" fill="#808080"/>
<text class="d" x="544.8" y="58.6" font-size="4.9" stroke="#fff" stroke-width="0.1" text-anchor="middle" fill="#fff">2000</text>
<rect x="552.77" y="49.03" width="16.13" height="15.93" fill="#fbfbfb"/>
<text class="d" x="560.73" y="58.6" font-size="4.9" stroke="#222" stroke-width="0.1" text-anchor="middle" fill="#222">122</text>
<rect x="520.9" y="64.77" width="16.13" height="15.93" fill="#909090"/>
<text class="d" x="528.87" y="74.33" font-size="4.9" stroke="#fff" stroke-width="0.1" text-anchor="middle" fill="#fff">1779</text>
<rect x="536.83" y="64.77" width="16.13" height="15.93" fill="#ffffff"/>
<text class="d" x="544.8" y="74.33" font-size="4.9" stroke="#222" stroke-width="0.1" text-anchor="middle" fill="#222">0</text>
<rect x="552.77" y="64.77" width="16.13" height="15.93" fill="#f6f6f6"/>
<text class="d" x="560.73" y="74.33" font-size="4.9" stroke="#222" stroke-width="0.1" text-anchor="middle" fill="#222">275</text>
<rect x="521.45" y="33.85" width="46.7" height="46.1" fill="none" stroke="#1c1c1c" stroke-width="1.25"/>
<line x1="519.4" y1="41.17" x2="520.9" y2="41.17" stroke="#444" stroke-width=".4"/>
<text class="d" x="518.6" y="44.37" font-size="7.5" stroke="#000" stroke-width="0.1" text-anchor="end">St</text>
<line x1="519.4" y1="56.9" x2="520.9" y2="56.9" stroke="#444" stroke-width=".4"/>
<text class="d" x="518.6" y="60.1" font-size="7.5" stroke="#000" stroke-width="0.1" text-anchor="end">Cx</text>
<line x1="519.4" y1="72.63" x2="520.9" y2="72.63" stroke="#444" stroke-width=".4"/>
<text class="d" x="518.6" y="75.83" font-size="7.5" stroke="#000" stroke-width="0.1" text-anchor="end">Sm</text>
<text class="l" x="510" y="36" font-size="11" stroke="#000" stroke-width="0.09">h</text>
<rect x="579.1" y="33.3" width="15.97" height="15.93" fill="#f9f9f9"/>
<text class="d" x="586.98" y="42.87" font-size="4.9" stroke="#222" stroke-width="0.1" text-anchor="middle" fill="#222">202</text>
<rect x="594.87" y="33.3" width="15.97" height="15.93" fill="#ffffff"/>
<text class="d" x="602.75" y="42.87" font-size="4.9" stroke="#222" stroke-width="0.1" text-anchor="middle" fill="#222">0</text>
<rect x="610.63" y="33.3" width="15.97" height="15.93" fill="#adadad"/>
<text class="d" x="618.52" y="42.87" font-size="4.9" stroke="#222" stroke-width="0.1" text-anchor="middle" fill="#222">1436</text>
<rect x="579.1" y="49.03" width="15.97" height="15.93" fill="#f0f0f0"/>
<text class="d" x="586.98" y="58.6" font-size="4.9" stroke="#222" stroke-width="0.1" text-anchor="middle" fill="#222">414</text>
<rect x="594.87" y="49.03" width="15.97" height="15.93" fill="#c3c3c3"/>
<text class="d" x="602.75" y="58.6" font-size="4.9" stroke="#222" stroke-width="0.1" text-anchor="middle" fill="#222">1105</text>
<rect x="610.63" y="49.03" width="15.97" height="15.93" fill="#fbfbfb"/>
<text class="d" x="618.52" y="58.6" font-size="4.9" stroke="#222" stroke-width="0.1" text-anchor="middle" fill="#222">140</text>
<rect x="579.1" y="64.77" width="15.97" height="15.93" fill="#b0b0b0"/>
<text class="d" x="586.98" y="74.33" font-size="4.9" stroke="#222" stroke-width="0.1" text-anchor="middle" fill="#222">1383</text>
<rect x="594.87" y="64.77" width="15.97" height="15.93" fill="#d3d3d3"/>
<text class="d" x="602.75" y="74.33" font-size="4.9" stroke="#222" stroke-width="0.1" text-anchor="middle" fill="#222">894</text>
<rect x="610.63" y="64.77" width="15.97" height="15.93" fill="#f0f0f0"/>
<text class="d" x="618.52" y="74.33" font-size="4.9" stroke="#222" stroke-width="0.1" text-anchor="middle" fill="#222">423</text>
<rect x="579.65" y="33.85" width="46.2" height="46.1" fill="none" stroke="#1c1c1c" stroke-width="1.25"/>
<text class="l" x="571.8" y="36" font-size="11" stroke="#000" stroke-width="0.09">i</text>
<rect x="520.9" y="87.6" width="16.13" height="16.07" fill="#fdfdfd"/>
<text class="d" x="528.87" y="97.23" font-size="4.9" stroke="#222" stroke-width="0.1" text-anchor="middle" fill="#222">62</text>
<rect x="536.83" y="87.6" width="16.13" height="16.07" fill="#ffffff"/>
<text class="d" x="544.8" y="97.23" font-size="4.9" stroke="#222" stroke-width="0.1" text-anchor="middle" fill="#222">2</text>
<rect x="552.77" y="87.6" width="16.13" height="16.07" fill="#aeaeae"/>
<text class="d" x="560.73" y="97.23" font-size="4.9" stroke="#222" stroke-width="0.1" text-anchor="middle" fill="#222">1412</text>
<rect x="520.9" y="103.47" width="16.13" height="16.07" fill="#f8f8f8"/>
<text class="d" x="528.87" y="113.1" font-size="4.9" stroke="#222" stroke-width="0.1" text-anchor="middle" fill="#222">220</text>
<rect x="536.83" y="103.47" width="16.13" height="16.07" fill="#808080"/>
<text class="d" x="544.8" y="113.1" font-size="4.9" stroke="#fff" stroke-width="0.1" text-anchor="middle" fill="#fff">1985</text>
<rect x="552.77" y="103.47" width="16.13" height="16.07" fill="#fbfbfb"/>
<text class="d" x="560.73" y="113.1" font-size="4.9" stroke="#222" stroke-width="0.1" text-anchor="middle" fill="#222">148</text>
<rect x="520.9" y="119.33" width="16.13" height="16.07" fill="#959595"/>
<text class="d" x="528.87" y="128.97" font-size="4.9" stroke="#fff" stroke-width="0.1" text-anchor="middle" fill="#fff">1718</text>
<rect x="536.83" y="119.33" width="16.13" height="16.07" fill="#ffffff"/>
<text class="d" x="544.8" y="128.97" font-size="4.9" stroke="#222" stroke-width="0.1" text-anchor="middle" fill="#222">13</text>
<rect x="552.77" y="119.33" width="16.13" height="16.07" fill="#efefef"/>
<text class="d" x="560.73" y="128.97" font-size="4.9" stroke="#222" stroke-width="0.1" text-anchor="middle" fill="#222">440</text>
<rect x="521.45" y="88.15" width="46.7" height="46.5" fill="none" stroke="#1c1c1c" stroke-width="1.25"/>
<line x1="519.4" y1="95.53" x2="520.9" y2="95.53" stroke="#444" stroke-width=".4"/>
<text class="d" x="518.6" y="98.73" font-size="7.5" stroke="#000" stroke-width="0.1" text-anchor="end">St</text>
<line x1="519.4" y1="111.4" x2="520.9" y2="111.4" stroke="#444" stroke-width=".4"/>
<text class="d" x="518.6" y="114.6" font-size="7.5" stroke="#000" stroke-width="0.1" text-anchor="end">Cx</text>
<line x1="519.4" y1="127.27" x2="520.9" y2="127.27" stroke="#444" stroke-width=".4"/>
<text class="d" x="518.6" y="130.47" font-size="7.5" stroke="#000" stroke-width="0.1" text-anchor="end">Sm</text>
<line x1="528.87" y1="135.2" x2="528.87" y2="136.7" stroke="#444" stroke-width=".4"/>
<text class="d" x="528.87" y="143.8" font-size="7.5" stroke="#000" stroke-width="0.1" text-anchor="middle">Sm</text>
<line x1="544.8" y1="135.2" x2="544.8" y2="136.7" stroke="#444" stroke-width=".4"/>
<text class="d" x="544.8" y="143.8" font-size="7.5" stroke="#000" stroke-width="0.1" text-anchor="middle">Cx</text>
<line x1="560.73" y1="135.2" x2="560.73" y2="136.7" stroke="#444" stroke-width=".4"/>
<text class="d" x="560.73" y="143.8" font-size="7.5" stroke="#000" stroke-width="0.1" text-anchor="middle">St</text>
<text class="l" x="511" y="87" font-size="11" stroke="#000" stroke-width="0.09">j</text>
<rect x="579.1" y="87.6" width="15.97" height="16.07" fill="#fefefe"/>
<text class="d" x="586.98" y="97.23" font-size="4.9" stroke="#222" stroke-width="0.1" text-anchor="middle" fill="#222">54</text>
<rect x="594.87" y="87.6" width="15.97" height="16.07" fill="#ffffff"/>
<text class="d" x="602.75" y="97.23" font-size="4.9" stroke="#222" stroke-width="0.1" text-anchor="middle" fill="#222">0</text>
<rect x="610.63" y="87.6" width="15.97" height="16.07" fill="#afafaf"/>
<text class="d" x="618.52" y="97.23" font-size="4.9" stroke="#222" stroke-width="0.1" text-anchor="middle" fill="#222">1397</text>
<rect x="579.1" y="103.47" width="15.97" height="16.07" fill="#f0f0f0"/>
<text class="d" x="586.98" y="113.1" font-size="4.9" stroke="#222" stroke-width="0.1" text-anchor="middle" fill="#222">418</text>
<rect x="594.87" y="103.47" width="15.97" height="16.07" fill="#a0a0a0"/>
<text class="d" x="602.75" y="113.1" font-size="4.9" stroke="#222" stroke-width="0.1" text-anchor="middle" fill="#222">1596</text>
<rect x="610.63" y="103.47" width="15.97" height="16.07" fill="#fafafa"/>
<text class="d" x="618.52" y="113.1" font-size="4.9" stroke="#222" stroke-width="0.1" text-anchor="middle" fill="#222">170</text>
<rect x="579.1" y="119.33" width="15.97" height="16.07" fill="#a6a6a6"/>
<text class="d" x="586.98" y="128.97" font-size="4.9" stroke="#222" stroke-width="0.1" text-anchor="middle" fill="#222">1526</text>
<rect x="594.87" y="119.33" width="15.97" height="16.07" fill="#f1f1f1"/>
<text class="d" x="602.75" y="128.97" font-size="4.9" stroke="#222" stroke-width="0.1" text-anchor="middle" fill="#222">403</text>
<rect x="610.63" y="119.33" width="15.97" height="16.07" fill="#efefef"/>
<text class="d" x="618.52" y="128.97" font-size="4.9" stroke="#222" stroke-width="0.1" text-anchor="middle" fill="#222">432</text>
<rect x="579.65" y="88.15" width="46.2" height="46.5" fill="none" stroke="#1c1c1c" stroke-width="1.25"/>
<line x1="586.98" y1="135.2" x2="586.98" y2="136.7" stroke="#444" stroke-width=".4"/>
<text class="d" x="586.98" y="143.8" font-size="7.5" stroke="#000" stroke-width="0.1" text-anchor="middle">Sm</text>
<line x1="602.75" y1="135.2" x2="602.75" y2="136.7" stroke="#444" stroke-width=".4"/>
<text class="d" x="602.75" y="143.8" font-size="7.5" stroke="#000" stroke-width="0.1" text-anchor="middle">Cx</text>
<line x1="618.52" y1="135.2" x2="618.52" y2="136.7" stroke="#444" stroke-width=".4"/>
<text class="d" x="618.52" y="143.8" font-size="7.5" stroke="#000" stroke-width="0.1" text-anchor="middle">St</text>
<text class="l" x="570.2" y="86.9" font-size="11" stroke="#000" stroke-width="0.09">k</text>
<rect x="637.2" y="87.6" width="15.97" height="16.07" fill="#ffffff"/>
<text class="d" x="645.08" y="97.23" font-size="4.9" stroke="#222" stroke-width="0.1" text-anchor="middle" fill="#222">0</text>
<rect x="652.97" y="87.6" width="15.97" height="16.07" fill="#ffffff"/>
<text class="d" x="660.85" y="97.23" font-size="4.9" stroke="#222" stroke-width="0.1" text-anchor="middle" fill="#222">22</text>
<rect x="668.73" y="87.6" width="15.97" height="16.07" fill="#ffffff"/>
<text class="d" x="676.62" y="97.23" font-size="4.9" stroke="#222" stroke-width="0.1" text-anchor="middle" fill="#222">14</text>
<rect x="637.2" y="103.47" width="15.97" height="16.07" fill="#eeeeee"/>
<text class="d" x="645.08" y="113.1" font-size="4.9" stroke="#222" stroke-width="0.1" text-anchor="middle" fill="#222">447</text>
<rect x="652.97" y="103.47" width="15.97" height="16.07" fill="#818181"/>
<text class="d" x="660.85" y="113.1" font-size="4.9" stroke="#fff" stroke-width="0.1" text-anchor="middle" fill="#fff">1981</text>
<rect x="668.73" y="103.47" width="15.97" height="16.07" fill="#ffffff"/>
<text class="d" x="676.62" y="113.1" font-size="4.9" stroke="#222" stroke-width="0.1" text-anchor="middle" fill="#222">23</text>
<rect x="637.2" y="119.33" width="15.97" height="16.07" fill="#929292"/>
<text class="d" x="645.08" y="128.97" font-size="4.9" stroke="#fff" stroke-width="0.1" text-anchor="middle" fill="#fff">1748</text>
<rect x="652.97" y="119.33" width="15.97" height="16.07" fill="#e1e1e1"/>
<text class="d" x="660.85" y="128.97" font-size="4.9" stroke="#222" stroke-width="0.1" text-anchor="middle" fill="#222">690</text>
<rect x="668.73" y="119.33" width="15.97" height="16.07" fill="#fefefe"/>
<text class="d" x="676.62" y="128.97" font-size="4.9" stroke="#222" stroke-width="0.1" text-anchor="middle" fill="#222">28</text>
<rect x="637.75" y="88.15" width="46.2" height="46.5" fill="none" stroke="#1c1c1c" stroke-width="1.25"/>
<line x1="645.08" y1="135.2" x2="645.08" y2="136.7" stroke="#444" stroke-width=".4"/>
<text class="d" x="645.08" y="143.8" font-size="7.5" stroke="#000" stroke-width="0.1" text-anchor="middle">Sm</text>
<line x1="660.85" y1="135.2" x2="660.85" y2="136.7" stroke="#444" stroke-width=".4"/>
<text class="d" x="660.85" y="143.8" font-size="7.5" stroke="#000" stroke-width="0.1" text-anchor="middle">Cx</text>
<line x1="676.62" y1="135.2" x2="676.62" y2="136.7" stroke="#444" stroke-width=".4"/>
<text class="d" x="676.62" y="143.8" font-size="7.5" stroke="#000" stroke-width="0.1" text-anchor="middle">St</text>
<text class="l" x="630.3" y="87.3" font-size="11" stroke="#000" stroke-width="0.09">l</text>
<text class="d" x="503" y="82.7" font-size="8.2" stroke="#000" stroke-width="0.12" text-anchor="middle" transform="rotate(-90 503 82.7)">Predicted labels</text>
<text class="d" x="602" y="153.8" font-size="8.2" stroke="#000" stroke-width="0.12" text-anchor="middle">True labels</text>
<rect x="636.5" y="33.2" width="10.5" height="47.3" fill="url(#gg)" stroke="#666" stroke-width=".5"/>
<line x1="647" y1="34.15" x2="649" y2="34.15" stroke="#222" stroke-width=".5"/>
<text class="d" x="649.4" y="37.15" font-size="8" stroke="#000" stroke-width="0.16">2e3</text>
<line x1="647" y1="57.32" x2="649" y2="57.32" stroke="#222" stroke-width=".5"/>
<text class="d" x="649.4" y="60.32" font-size="8" stroke="#000" stroke-width="0.16">1e3</text>
<line x1="647" y1="80.5" x2="649" y2="80.5" stroke="#222" stroke-width=".5"/>
<text class="d" x="649.4" y="83.5" font-size="8" stroke="#000" stroke-width="0.16">0</text>
<text class="d" x="674" y="58" font-size="9.8" stroke="#000" stroke-width="0.15" text-anchor="middle" transform="rotate(-90 674 58)">Number of</text>
<text class="d" x="684" y="58" font-size="9.8" stroke="#000" stroke-width="0.15" text-anchor="middle" transform="rotate(-90 684 58)">infections</text>
</svg>
</body></html>
